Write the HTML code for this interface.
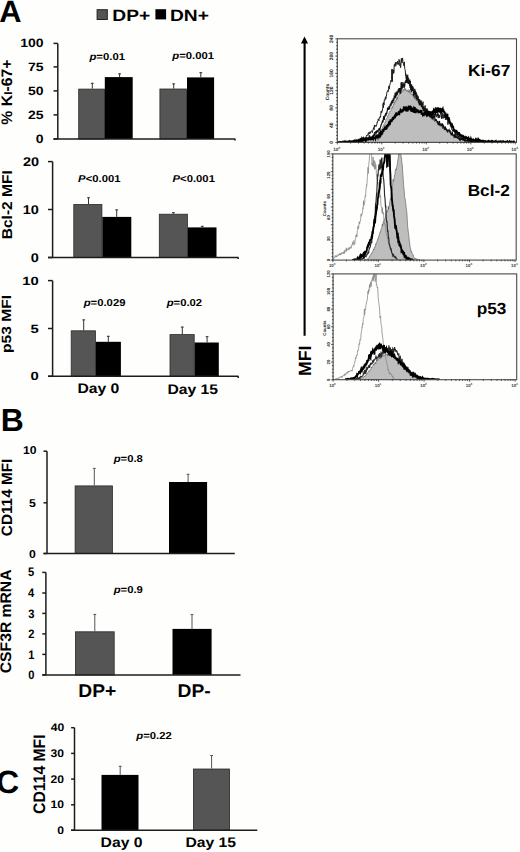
<!DOCTYPE html>
<html><head><meta charset="utf-8"><title>Figure</title>
<style>html,body{margin:0;padding:0;background:#fefefd;}svg{display:block}
text{font-family:'Liberation Sans',sans-serif;font-weight:bold;text-rendering:geometricPrecision}</style></head>
<body><svg width="520" height="852" viewBox="0 0 520 852">
<rect width="520" height="852" fill="#fefefd"/>
<rect x="78.70" y="89.10" width="25.70" height="49.90" fill="#555555" stroke="#2a2a2a" stroke-width="0.8"/>
<rect x="104.80" y="77.10" width="27.90" height="61.90" fill="#000"/>
<rect x="159.90" y="89.00" width="26.70" height="50.00" fill="#555555" stroke="#2a2a2a" stroke-width="0.8"/>
<rect x="187.00" y="77.40" width="27.10" height="61.60" fill="#000"/>
<line x1="92.30" y1="82.90" x2="92.30" y2="88.70" stroke="#333" stroke-width="1.0"/>
<line x1="90.90" y1="83.30" x2="93.70" y2="83.30" stroke="#333" stroke-width="1.0"/>
<line x1="119.60" y1="73.50" x2="119.60" y2="77.10" stroke="#333" stroke-width="1.0"/>
<line x1="118.20" y1="73.90" x2="121.00" y2="73.90" stroke="#333" stroke-width="1.0"/>
<line x1="173.70" y1="83.50" x2="173.70" y2="88.60" stroke="#333" stroke-width="1.0"/>
<line x1="172.30" y1="83.90" x2="175.10" y2="83.90" stroke="#333" stroke-width="1.0"/>
<line x1="200.80" y1="72.30" x2="200.80" y2="77.40" stroke="#333" stroke-width="1.0"/>
<line x1="199.40" y1="72.70" x2="202.20" y2="72.70" stroke="#333" stroke-width="1.0"/>
<line x1="57.80" y1="43.40" x2="57.80" y2="139.00" stroke="#1c1c1c" stroke-width="1.5"/>
<line x1="53.50" y1="43.40" x2="57.80" y2="43.40" stroke="#1c1c1c" stroke-width="1.5"/>
<line x1="53.50" y1="66.90" x2="57.80" y2="66.90" stroke="#1c1c1c" stroke-width="1.5"/>
<line x1="53.50" y1="90.90" x2="57.80" y2="90.90" stroke="#1c1c1c" stroke-width="1.5"/>
<line x1="53.50" y1="114.90" x2="57.80" y2="114.90" stroke="#1c1c1c" stroke-width="1.5"/>
<line x1="53.50" y1="139.00" x2="57.80" y2="139.00" stroke="#1c1c1c" stroke-width="1.5"/>
<line x1="53.50" y1="139.00" x2="235.30" y2="139.00" stroke="#1c1c1c" stroke-width="1.5"/>
<line x1="235.00" y1="139.00" x2="235.00" y2="140.60" stroke="#1c1c1c" stroke-width="1.5"/>
<rect x="73.80" y="204.50" width="28.10" height="53.00" fill="#555555" stroke="#2a2a2a" stroke-width="0.8"/>
<rect x="102.30" y="216.90" width="29.00" height="40.60" fill="#000"/>
<rect x="159.30" y="214.20" width="28.10" height="43.30" fill="#555555" stroke="#2a2a2a" stroke-width="0.8"/>
<rect x="187.80" y="227.40" width="28.70" height="30.10" fill="#000"/>
<line x1="88.50" y1="197.40" x2="88.50" y2="204.10" stroke="#333" stroke-width="1.0"/>
<line x1="87.10" y1="197.80" x2="89.90" y2="197.80" stroke="#333" stroke-width="1.0"/>
<line x1="116.70" y1="209.50" x2="116.70" y2="216.90" stroke="#333" stroke-width="1.0"/>
<line x1="115.30" y1="209.90" x2="118.10" y2="209.90" stroke="#333" stroke-width="1.0"/>
<line x1="173.40" y1="212.30" x2="173.40" y2="213.80" stroke="#333" stroke-width="1.0"/>
<line x1="172.00" y1="212.70" x2="174.80" y2="212.70" stroke="#333" stroke-width="1.0"/>
<line x1="202.30" y1="225.90" x2="202.30" y2="227.40" stroke="#333" stroke-width="1.0"/>
<line x1="200.90" y1="226.30" x2="203.70" y2="226.30" stroke="#333" stroke-width="1.0"/>
<line x1="52.60" y1="161.60" x2="52.60" y2="257.50" stroke="#1c1c1c" stroke-width="1.5"/>
<line x1="48.00" y1="161.60" x2="52.60" y2="161.60" stroke="#1c1c1c" stroke-width="1.5"/>
<line x1="48.00" y1="209.50" x2="52.60" y2="209.50" stroke="#1c1c1c" stroke-width="1.5"/>
<line x1="48.00" y1="257.50" x2="52.60" y2="257.50" stroke="#1c1c1c" stroke-width="1.5"/>
<line x1="48.00" y1="257.50" x2="238.50" y2="257.50" stroke="#1c1c1c" stroke-width="1.5"/>
<line x1="238.20" y1="257.50" x2="238.20" y2="259.10" stroke="#1c1c1c" stroke-width="1.5"/>
<rect x="71.20" y="330.80" width="24.20" height="45.50" fill="#555555" stroke="#2a2a2a" stroke-width="0.8"/>
<rect x="95.80" y="341.80" width="25.10" height="34.50" fill="#000"/>
<rect x="170.00" y="334.60" width="24.20" height="41.70" fill="#555555" stroke="#2a2a2a" stroke-width="0.8"/>
<rect x="194.60" y="342.50" width="24.20" height="33.80" fill="#000"/>
<line x1="83.70" y1="319.50" x2="83.70" y2="330.40" stroke="#333" stroke-width="1.0"/>
<line x1="82.30" y1="319.90" x2="85.10" y2="319.90" stroke="#333" stroke-width="1.0"/>
<line x1="108.30" y1="335.90" x2="108.30" y2="341.80" stroke="#333" stroke-width="1.0"/>
<line x1="106.90" y1="336.30" x2="109.70" y2="336.30" stroke="#333" stroke-width="1.0"/>
<line x1="182.30" y1="326.70" x2="182.30" y2="334.20" stroke="#333" stroke-width="1.0"/>
<line x1="180.90" y1="327.10" x2="183.70" y2="327.10" stroke="#333" stroke-width="1.0"/>
<line x1="207.10" y1="336.30" x2="207.10" y2="342.50" stroke="#333" stroke-width="1.0"/>
<line x1="205.70" y1="336.70" x2="208.50" y2="336.70" stroke="#333" stroke-width="1.0"/>
<line x1="52.60" y1="280.60" x2="52.60" y2="376.30" stroke="#1c1c1c" stroke-width="1.5"/>
<line x1="48.00" y1="280.60" x2="52.60" y2="280.60" stroke="#1c1c1c" stroke-width="1.5"/>
<line x1="48.00" y1="328.50" x2="52.60" y2="328.50" stroke="#1c1c1c" stroke-width="1.5"/>
<line x1="48.00" y1="376.30" x2="52.60" y2="376.30" stroke="#1c1c1c" stroke-width="1.5"/>
<line x1="48.00" y1="376.30" x2="238.50" y2="376.30" stroke="#1c1c1c" stroke-width="1.5"/>
<line x1="238.20" y1="376.30" x2="238.20" y2="377.90" stroke="#1c1c1c" stroke-width="1.5"/>
<rect x="75.10" y="485.90" width="37.30" height="67.60" fill="#555555" stroke="#2a2a2a" stroke-width="0.8"/>
<rect x="169.00" y="482.00" width="38.10" height="71.50" fill="#000"/>
<line x1="94.30" y1="468.00" x2="94.30" y2="485.50" stroke="#555" stroke-width="1.0"/>
<line x1="92.90" y1="468.40" x2="95.70" y2="468.40" stroke="#555" stroke-width="1.0"/>
<line x1="188.10" y1="473.90" x2="188.10" y2="482.00" stroke="#555" stroke-width="1.0"/>
<line x1="186.70" y1="474.30" x2="189.50" y2="474.30" stroke="#555" stroke-width="1.0"/>
<line x1="47.00" y1="451.20" x2="47.00" y2="553.50" stroke="#1c1c1c" stroke-width="1.5"/>
<line x1="43.50" y1="451.20" x2="47.00" y2="451.20" stroke="#1c1c1c" stroke-width="1.5"/>
<line x1="43.50" y1="502.80" x2="47.00" y2="502.80" stroke="#1c1c1c" stroke-width="1.5"/>
<line x1="43.50" y1="553.50" x2="47.00" y2="553.50" stroke="#1c1c1c" stroke-width="1.5"/>
<line x1="43.50" y1="553.50" x2="234.80" y2="553.50" stroke="#1c1c1c" stroke-width="1.5"/>
<rect x="75.40" y="631.80" width="38.80" height="43.10" fill="#555555" stroke="#2a2a2a" stroke-width="0.8"/>
<rect x="172.50" y="628.90" width="39.10" height="46.00" fill="#000"/>
<line x1="94.80" y1="614.00" x2="94.80" y2="631.40" stroke="#555" stroke-width="1.0"/>
<line x1="93.40" y1="614.40" x2="96.20" y2="614.40" stroke="#555" stroke-width="1.0"/>
<line x1="192.00" y1="614.20" x2="192.00" y2="628.90" stroke="#555" stroke-width="1.0"/>
<line x1="190.60" y1="614.60" x2="193.40" y2="614.60" stroke="#555" stroke-width="1.0"/>
<line x1="45.90" y1="572.40" x2="45.90" y2="674.90" stroke="#1c1c1c" stroke-width="1.5"/>
<line x1="42.30" y1="572.40" x2="45.90" y2="572.40" stroke="#1c1c1c" stroke-width="1.5"/>
<line x1="42.30" y1="593.00" x2="45.90" y2="593.00" stroke="#1c1c1c" stroke-width="1.5"/>
<line x1="42.30" y1="613.40" x2="45.90" y2="613.40" stroke="#1c1c1c" stroke-width="1.5"/>
<line x1="42.30" y1="633.90" x2="45.90" y2="633.90" stroke="#1c1c1c" stroke-width="1.5"/>
<line x1="42.30" y1="654.40" x2="45.90" y2="654.40" stroke="#1c1c1c" stroke-width="1.5"/>
<line x1="42.30" y1="674.90" x2="45.90" y2="674.90" stroke="#1c1c1c" stroke-width="1.5"/>
<line x1="42.30" y1="674.90" x2="240.50" y2="674.90" stroke="#1c1c1c" stroke-width="1.5"/>
<rect x="101.50" y="774.90" width="37.00" height="55.30" fill="#000"/>
<rect x="193.40" y="769.00" width="36.20" height="61.20" fill="#555555" stroke="#2a2a2a" stroke-width="0.8"/>
<line x1="120.20" y1="765.90" x2="120.20" y2="774.90" stroke="#555" stroke-width="1.0"/>
<line x1="118.80" y1="766.30" x2="121.60" y2="766.30" stroke="#555" stroke-width="1.0"/>
<line x1="211.60" y1="755.10" x2="211.60" y2="768.60" stroke="#555" stroke-width="1.0"/>
<line x1="210.20" y1="755.50" x2="213.00" y2="755.50" stroke="#555" stroke-width="1.0"/>
<line x1="74.50" y1="727.70" x2="74.50" y2="830.20" stroke="#1c1c1c" stroke-width="1.5"/>
<line x1="71.10" y1="727.70" x2="74.50" y2="727.70" stroke="#1c1c1c" stroke-width="1.5"/>
<line x1="71.10" y1="753.40" x2="74.50" y2="753.40" stroke="#1c1c1c" stroke-width="1.5"/>
<line x1="71.10" y1="779.10" x2="74.50" y2="779.10" stroke="#1c1c1c" stroke-width="1.5"/>
<line x1="71.10" y1="804.80" x2="74.50" y2="804.80" stroke="#1c1c1c" stroke-width="1.5"/>
<line x1="71.10" y1="830.20" x2="74.50" y2="830.20" stroke="#1c1c1c" stroke-width="1.5"/>
<line x1="71.10" y1="830.20" x2="257.30" y2="830.20" stroke="#1c1c1c" stroke-width="1.5"/>
<rect x="97.1" y="9.7" width="10.2" height="9.8" fill="#555555" stroke="#222" stroke-width="1"/>
<rect x="155.4" y="9.2" width="10.7" height="10.2" fill="#000"/>
<defs><clipPath id="h1"><rect x="337.3" y="38.8" width="179.2" height="103.6"/></clipPath><clipPath id="h2"><rect x="332.8" y="153.9" width="183.4" height="106.2"/></clipPath><clipPath id="h3"><rect x="333.1" y="273.9" width="183.6" height="105.8"/></clipPath></defs>
<g clip-path="url(#h1)"><path d="M345.00,142.40 L345.30,142.40 L345.60,142.27 L345.90,142.19 L346.20,142.14 L346.50,142.22 L346.80,142.11 L347.10,142.06 L347.40,142.19 L347.70,142.17 L348.00,142.19 L348.30,142.04 L348.60,142.11 L348.90,142.09 L349.20,141.93 L349.50,142.11 L349.80,142.08 L350.10,142.27 L350.40,142.03 L350.70,141.98 L351.00,142.11 L351.30,141.99 L351.60,142.05 L351.90,141.89 L352.20,141.94 L352.50,142.01 L352.80,141.96 L353.10,141.88 L353.40,141.73 L353.70,141.89 L354.00,141.83 L354.30,141.89 L354.60,141.81 L354.90,141.90 L355.20,141.75 L355.50,141.76 L355.80,141.81 L356.10,141.57 L356.40,141.64 L356.70,141.61 L357.00,141.91 L357.30,141.63 L357.60,141.71 L357.90,141.69 L358.20,141.56 L358.50,141.37 L358.80,141.69 L359.10,141.49 L359.40,141.63 L359.70,141.34 L360.00,141.42 L360.30,141.61 L360.60,141.58 L360.90,141.12 L361.20,141.05 L361.50,141.18 L361.80,141.24 L362.10,141.09 L362.40,141.05 L362.70,140.77 L363.00,140.97 L363.30,141.00 L363.60,140.67 L363.90,140.43 L364.20,140.49 L364.50,140.70 L364.80,140.18 L365.10,140.42 L365.40,140.19 L365.70,140.29 L366.00,140.20 L366.30,140.19 L366.60,140.43 L366.90,140.15 L367.20,140.27 L367.50,139.91 L367.80,139.77 L368.10,139.89 L368.40,139.14 L368.70,139.68 L369.00,139.66 L369.30,139.29 L369.60,139.60 L369.90,139.31 L370.20,138.81 L370.50,139.26 L370.80,139.02 L371.10,139.07 L371.40,139.09 L371.70,139.36 L372.00,138.97 L372.30,138.77 L372.60,138.65 L372.90,137.85 L373.20,138.43 L373.50,137.58 L373.80,137.77 L374.10,137.10 L374.40,136.91 L374.70,136.86 L375.00,137.33 L375.30,136.74 L375.60,136.11 L375.90,135.98 L376.20,135.47 L376.50,135.61 L376.80,135.21 L377.10,135.42 L377.40,134.48 L377.70,134.61 L378.00,134.20 L378.30,134.01 L378.60,134.31 L378.90,133.87 L379.20,133.82 L379.50,133.83 L379.80,133.55 L380.10,132.14 L380.40,132.34 L380.70,130.72 L381.00,130.76 L381.30,130.98 L381.60,129.38 L381.90,128.63 L382.20,128.22 L382.50,127.49 L382.80,126.83 L383.10,125.77 L383.40,126.05 L383.70,125.30 L384.00,124.05 L384.30,123.68 L384.60,123.21 L384.90,122.77 L385.20,121.75 L385.50,121.26 L385.80,120.04 L386.10,118.89 L386.40,118.57 L386.70,118.84 L387.00,118.16 L387.30,116.98 L387.60,115.87 L387.90,115.81 L388.20,116.11 L388.50,115.32 L388.80,113.37 L389.10,113.21 L389.40,111.65 L389.70,111.27 L390.00,111.59 L390.30,110.88 L390.60,110.96 L390.90,110.59 L391.20,109.70 L391.50,109.46 L391.80,107.50 L392.10,106.47 L392.40,107.10 L392.70,108.15 L393.00,105.81 L393.30,104.06 L393.60,104.54 L393.90,104.87 L394.20,102.36 L394.50,103.21 L394.80,101.50 L395.10,102.41 L395.40,101.46 L395.70,100.54 L396.00,101.42 L396.30,98.94 L396.60,98.20 L396.90,99.80 L397.20,97.01 L397.50,99.09 L397.80,96.70 L398.10,95.34 L398.40,95.71 L398.70,95.32 L399.00,94.87 L399.30,94.02 L399.60,94.62 L399.90,91.18 L400.20,92.34 L400.50,92.28 L400.80,93.83 L401.10,90.15 L401.40,91.33 L401.70,90.31 L402.00,90.45 L402.30,91.33 L402.60,90.83 L402.90,91.47 L403.20,89.32 L403.50,89.82 L403.80,90.35 L404.10,89.82 L404.40,88.44 L404.70,89.72 L405.00,87.94 L405.30,90.66 L405.60,89.37 L405.90,89.34 L406.20,89.91 L406.50,90.65 L406.80,91.68 L407.10,90.19 L407.40,90.20 L407.70,91.28 L408.00,90.18 L408.30,89.66 L408.60,92.15 L408.90,91.28 L409.20,92.84 L409.50,91.14 L409.80,89.70 L410.10,92.74 L410.40,92.85 L410.70,94.37 L411.00,93.71 L411.30,93.86 L411.60,94.45 L411.90,93.97 L412.20,94.71 L412.50,93.83 L412.80,95.79 L413.10,95.01 L413.40,95.67 L413.70,97.00 L414.00,97.53 L414.30,96.26 L414.60,99.15 L414.90,97.32 L415.20,98.86 L415.50,99.31 L415.80,99.05 L416.10,99.36 L416.40,101.05 L416.70,100.65 L417.00,100.64 L417.30,99.15 L417.60,100.38 L417.90,102.27 L418.20,101.84 L418.50,101.28 L418.80,101.88 L419.10,102.50 L419.40,103.64 L419.70,103.75 L420.00,104.61 L420.30,103.63 L420.60,105.48 L420.90,104.80 L421.20,105.41 L421.50,107.41 L421.80,106.62 L422.10,106.92 L422.40,107.32 L422.70,107.66 L423.00,109.54 L423.30,109.86 L423.60,109.84 L423.90,109.91 L424.20,110.98 L424.50,110.65 L424.80,111.48 L425.10,111.90 L425.40,112.14 L425.70,113.67 L426.00,114.13 L426.30,114.17 L426.60,112.25 L426.90,115.05 L427.20,114.55 L427.50,114.05 L427.80,114.61 L428.10,115.65 L428.40,115.94 L428.70,116.00 L429.00,115.80 L429.30,116.00 L429.60,116.79 L429.90,116.46 L430.20,116.22 L430.50,116.67 L430.80,117.25 L431.10,117.81 L431.40,119.29 L431.70,117.30 L432.00,118.71 L432.30,118.63 L432.60,119.14 L432.90,120.05 L433.20,120.25 L433.50,119.68 L433.80,119.71 L434.10,119.51 L434.40,120.55 L434.70,121.59 L435.00,120.98 L435.30,121.81 L435.60,122.08 L435.90,122.17 L436.20,122.83 L436.50,122.42 L436.80,122.29 L437.10,122.38 L437.40,123.81 L437.70,123.37 L438.00,123.67 L438.30,124.56 L438.60,123.96 L438.90,125.59 L439.20,125.27 L439.50,124.92 L439.80,125.14 L440.10,126.29 L440.40,125.40 L440.70,125.95 L441.00,126.55 L441.30,126.91 L441.60,127.06 L441.90,127.47 L442.20,127.31 L442.50,127.63 L442.80,128.51 L443.10,128.41 L443.40,128.10 L443.70,129.33 L444.00,127.80 L444.30,128.97 L444.60,129.45 L444.90,129.79 L445.20,129.60 L445.50,129.59 L445.80,130.23 L446.10,130.09 L446.40,130.59 L446.70,129.35 L447.00,130.96 L447.30,130.67 L447.60,131.61 L447.90,131.73 L448.20,131.93 L448.50,131.67 L448.80,132.22 L449.10,132.11 L449.40,132.54 L449.70,132.61 L450.00,132.53 L450.30,133.84 L450.60,133.56 L450.90,132.71 L451.20,134.03 L451.50,133.39 L451.80,134.03 L452.10,134.11 L452.40,134.33 L452.70,134.82 L453.00,134.83 L453.30,134.65 L453.60,135.35 L453.90,135.68 L454.20,136.35 L454.50,135.84 L454.80,135.80 L455.10,136.27 L455.40,136.80 L455.70,136.53 L456.00,136.79 L456.30,137.38 L456.60,137.42 L456.90,137.66 L457.20,137.56 L457.50,137.60 L457.80,137.81 L458.10,137.94 L458.40,137.97 L458.70,138.25 L459.00,138.35 L459.30,138.43 L459.60,138.48 L459.90,138.21 L460.20,138.23 L460.50,138.79 L460.80,138.67 L461.10,138.77 L461.40,138.53 L461.70,138.84 L462.00,138.82 L462.30,138.84 L462.60,138.97 L462.90,138.85 L463.20,139.29 L463.50,139.62 L463.80,139.27 L464.10,139.52 L464.40,139.34 L464.70,139.80 L465.00,140.13 L465.30,139.54 L465.60,139.84 L465.90,140.25 L466.20,140.11 L466.50,140.13 L466.80,139.78 L467.10,140.23 L467.40,140.52 L467.70,140.69 L468.00,140.61 L468.30,140.46 L468.60,140.52 L468.90,140.40 L469.20,140.61 L469.50,141.06 L469.80,140.92 L470.10,140.77 L470.40,141.23 L470.70,140.77 L471.00,141.25 L471.30,141.01 L471.60,141.13 L471.90,141.20 L472.20,141.15 L472.50,141.32 L472.80,141.14 L473.10,141.10 L473.40,141.07 L473.70,140.96 L474.00,141.09 L474.30,141.36 L474.60,141.36 L474.90,141.45 L475.20,141.67 L475.50,141.38 L475.80,141.36 L476.10,141.11 L476.40,141.28 L476.70,141.66 L477.00,141.43 L477.30,141.35 L477.60,141.42 L477.90,141.12 L478.20,141.29 L478.50,141.24 L478.80,141.14 L479.10,141.56 L479.40,141.60 L479.70,141.46 L480.00,141.55 L480.30,141.38 L480.60,141.59 L480.90,141.65 L481.20,141.76 L481.50,141.78 L481.80,141.65 L482.10,141.59 L482.40,141.51 L482.70,141.56 L483.00,141.73 L483.30,141.74 L483.60,141.68 L483.90,141.90 L484.20,141.79 L484.50,141.73 L484.80,141.72 L485.10,141.76 L485.40,141.66 L485.70,141.67 L486.00,141.84 L486.30,141.75 L486.60,141.80 L486.90,141.99 L487.20,141.84 L487.50,142.02 L487.80,141.89 L488.10,142.07 L488.40,141.97 L488.70,141.74 L489.00,142.08 L489.30,141.94 L489.60,141.77 L489.90,142.00 L490.20,142.02 L490.50,141.87 L490.80,141.95 L491.10,142.07 L491.40,142.16 L491.70,142.14 L492.00,142.15 L492.30,142.14 L492.60,141.78 L492.90,141.96 L493.20,142.06 L493.50,141.77 L493.80,142.12 L494.10,142.14 L494.40,141.97 L494.70,142.02 L495.00,141.97 L495.30,142.06 L495.60,142.06 L495.90,142.07 L496.20,141.97 L496.50,142.12 L496.80,142.05 L497.10,142.18 L497.40,142.12 L497.70,141.95 L498.00,141.96 L498.30,142.11 L498.60,142.06 L498.90,142.15 L499.20,142.19 L499.50,142.12 L499.80,141.96 L500.10,142.01 L500.40,142.18 L500.70,142.03 L501.00,142.24 L501.30,142.13 L501.60,142.19 L501.90,142.06 L502.20,142.14 L502.50,141.88 L502.80,142.13 L503.10,142.21 L503.40,142.08 L503.70,142.09 L504.00,142.16 L504.30,142.18 L504.60,142.10 L504.90,142.24 L505.20,142.03 L505.50,142.29 L505.80,142.06 L506.10,142.12 L506.40,142.31 L506.70,142.11 L507.00,142.06 L507.30,142.21 L507.60,142.13 L507.90,142.12 L508.20,142.16 L508.50,142.16 L508.80,142.14 L509.10,142.14 L509.40,142.37 L509.70,142.18 L510.00,142.32 L510.30,142.12 L510.60,142.29 L510.90,142.15 L511.20,142.22 L511.50,142.31 L511.80,142.22 L512.10,142.10 L512.40,142.22 L512.70,142.26 L513.00,142.32 L513.30,142.20 L513.60,142.26 L513.90,142.29 L514.20,142.16 L514.50,142.29 L514.80,142.23 L514.80,142.40 L345.00,142.40 Z" fill="#bebebe" stroke="#666" stroke-width="0.6"/>
<path d="M345.00,142.40 L345.30,142.02 L345.60,142.23 L345.90,142.14 L346.20,142.28 L346.50,141.68 L346.80,141.90 L347.10,141.77 L347.40,141.65 L347.70,141.67 L348.00,141.73 L348.30,141.76 L348.60,141.54 L348.90,141.90 L349.20,141.57 L349.50,140.71 L349.80,142.05 L350.10,141.52 L350.40,141.37 L350.70,141.67 L351.00,141.62 L351.30,141.53 L351.60,141.19 L351.90,141.51 L352.20,140.87 L352.50,141.90 L352.80,140.89 L353.10,141.24 L353.40,141.29 L353.70,141.33 L354.00,141.12 L354.30,141.37 L354.60,139.74 L354.90,141.03 L355.20,140.97 L355.50,140.83 L355.80,141.58 L356.10,140.49 L356.40,140.78 L356.70,139.83 L357.00,140.73 L357.30,139.76 L357.60,139.67 L357.90,141.43 L358.20,140.55 L358.50,140.10 L358.80,140.09 L359.10,139.15 L359.40,139.24 L359.70,139.92 L360.00,138.43 L360.30,139.65 L360.60,138.41 L360.90,139.36 L361.20,138.54 L361.50,140.13 L361.80,139.60 L362.10,138.57 L362.40,137.61 L362.70,138.19 L363.00,138.55 L363.30,137.84 L363.60,138.57 L363.90,138.93 L364.20,138.14 L364.50,137.79 L364.80,138.49 L365.10,137.56 L365.40,138.12 L365.70,136.97 L366.00,138.13 L366.30,136.38 L366.60,135.45 L366.90,136.07 L367.20,135.17 L367.50,134.59 L367.80,134.98 L368.10,135.45 L368.40,132.53 L368.70,134.14 L369.00,133.74 L369.30,133.44 L369.60,134.06 L369.90,131.69 L370.20,133.34 L370.50,132.14 L370.80,132.19 L371.10,131.54 L371.40,131.12 L371.70,130.61 L372.00,131.24 L372.30,132.67 L372.60,130.99 L372.90,130.25 L373.20,129.39 L373.50,127.62 L373.80,128.40 L374.10,129.70 L374.40,124.96 L374.70,127.12 L375.00,126.84 L375.30,125.35 L375.60,125.51 L375.90,125.82 L376.20,126.45 L376.50,124.68 L376.80,124.67 L377.10,122.26 L377.40,122.46 L377.70,120.97 L378.00,120.62 L378.30,118.94 L378.60,120.15 L378.90,120.83 L379.20,117.80 L379.50,117.91 L379.80,117.98 L380.10,116.48 L380.40,117.27 L380.70,115.27 L381.00,111.79 L381.30,110.92 L381.60,112.91 L381.90,111.69 L382.20,111.50 L382.50,108.88 L382.80,107.73 L383.10,103.28 L383.40,107.91 L383.70,102.33 L384.00,105.14 L384.30,99.70 L384.60,99.63 L384.90,100.34 L385.20,98.22 L385.50,96.72 L385.80,99.19 L386.10,97.82 L386.40,96.31 L386.70,93.81 L387.00,91.81 L387.30,91.66 L387.60,90.63 L387.90,90.84 L388.20,91.74 L388.50,88.69 L388.80,86.33 L389.10,85.73 L389.40,89.13 L389.70,85.30 L390.00,84.26 L390.30,83.15 L390.60,82.71 L390.90,80.37 L391.20,81.76 L391.50,79.65 L391.80,69.12 L392.10,74.79 L392.40,81.60 L392.70,69.33 L393.00,71.97 L393.30,73.59 L393.60,69.94 L393.90,72.77 L394.20,64.98 L394.50,64.23 L394.80,66.35 L395.10,64.07 L395.40,62.37 L395.70,66.14 L396.00,64.76 L396.30,63.69 L396.60,62.40 L396.90,64.13 L397.20,62.92 L397.50,61.08 L397.80,64.42 L398.10,63.89 L398.40,62.95 L398.70,64.53 L399.00,59.35 L399.30,61.91 L399.60,60.71 L399.90,65.79 L400.20,63.35 L400.50,67.75 L400.80,66.10 L401.10,60.52 L401.40,58.36 L401.70,62.68 L402.00,60.40 L402.30,60.63 L402.60,57.96 L402.90,62.90 L403.20,62.52 L403.50,64.46 L403.80,65.72 L404.10,63.93 L404.40,61.87 L404.70,68.72 L405.00,69.28 L405.30,70.90 L405.60,75.80 L405.90,73.74 L406.20,78.49 L406.50,75.67 L406.80,77.58 L407.10,77.79 L407.40,79.27 L407.70,74.84 L408.00,81.50 L408.30,79.82 L408.60,77.92 L408.90,82.61 L409.20,82.72 L409.50,85.77 L409.80,85.18 L410.10,85.07 L410.40,81.09 L410.70,89.64 L411.00,89.81 L411.30,88.68 L411.60,88.46 L411.90,90.73 L412.20,86.44 L412.50,90.56 L412.80,89.53 L413.10,87.73 L413.40,91.35 L413.70,91.84 L414.00,95.37 L414.30,94.19 L414.60,89.06 L414.90,88.81 L415.20,93.48 L415.50,93.70 L415.80,92.62 L416.10,92.00 L416.40,95.21 L416.70,93.65 L417.00,95.14 L417.30,98.92 L417.60,98.09 L417.90,96.50 L418.20,96.23 L418.50,98.67 L418.80,103.10 L419.10,99.00 L419.40,104.03 L419.70,99.42 L420.00,101.06 L420.30,103.31 L420.60,100.82 L420.90,102.88 L421.20,100.54 L421.50,104.92 L421.80,106.30 L422.10,103.22 L422.40,105.26 L422.70,104.54 L423.00,101.65 L423.30,111.36 L423.60,107.78 L423.90,108.57 L424.20,108.17 L424.50,108.19 L424.80,112.64 L425.10,105.40 L425.40,108.58 L425.70,108.82 L426.00,109.56 L426.30,111.45 L426.60,109.14 L426.90,108.28 L427.20,108.85 L427.50,111.86 L427.80,112.94 L428.10,112.89 L428.40,114.47 L428.70,111.00 L429.00,113.83 L429.30,113.51 L429.60,112.25 L429.90,111.46 L430.20,114.46 L430.50,112.02 L430.80,112.89 L431.10,111.95 L431.40,116.74 L431.70,113.93 L432.00,113.40 L432.30,114.03 L432.60,114.28 L432.90,115.01 L433.20,112.27 L433.50,113.39 L433.80,116.27 L434.10,117.30 L434.40,113.92 L434.70,115.79 L435.00,114.70 L435.30,111.98 L435.60,115.21 L435.90,113.99 L436.20,117.20 L436.50,115.48 L436.80,115.79 L437.10,113.52 L437.40,116.16 L437.70,112.81 L438.00,116.32 L438.30,118.15 L438.60,113.88 L438.90,117.15 L439.20,117.98 L439.50,115.30 L439.80,117.37 L440.10,115.61 L440.40,114.59 L440.70,112.03 L441.00,113.48 L441.30,112.73 L441.60,119.01 L441.90,115.51 L442.20,114.87 L442.50,113.10 L442.80,118.31 L443.10,113.80 L443.40,118.28 L443.70,117.81 L444.00,116.36 L444.30,115.38 L444.60,116.55 L444.90,114.70 L445.20,118.03 L445.50,119.85 L445.80,118.82 L446.10,119.40 L446.40,117.15 L446.70,119.25 L447.00,117.78 L447.30,119.21 L447.60,121.51 L447.90,124.63 L448.20,121.63 L448.50,122.13 L448.80,119.97 L449.10,123.41 L449.40,122.46 L449.70,122.34 L450.00,122.77 L450.30,125.46 L450.60,125.29 L450.90,127.18 L451.20,126.56 L451.50,127.37 L451.80,129.67 L452.10,129.38 L452.40,129.84 L452.70,131.15 L453.00,130.20 L453.30,129.30 L453.60,129.92 L453.90,129.51 L454.20,131.93 L454.50,131.53 L454.80,132.85 L455.10,133.56 L455.40,132.33 L455.70,133.68 L456.00,135.08 L456.30,134.37 L456.60,135.51 L456.90,134.90 L457.20,134.66 L457.50,135.66 L457.80,134.70 L458.10,137.04 L458.40,136.28 L458.70,137.83 L459.00,136.01 L459.30,137.16 L459.60,137.45 L459.90,137.18 L460.20,137.74 L460.50,137.06 L460.80,136.97 L461.10,136.88 L461.40,137.60 L461.70,137.57 L462.00,138.41 L462.30,138.14 L462.60,138.09 L462.90,138.18 L463.20,137.59 L463.50,138.68 L463.80,139.29 L464.10,138.38 L464.40,139.15 L464.70,139.82 L465.00,139.17 L465.30,139.80 L465.60,139.60 L465.90,141.22 L466.20,140.73 L466.50,140.66 L466.80,139.74 L467.10,140.45 L467.40,140.07 L467.70,140.36 L468.00,139.93 L468.30,140.32 L468.60,139.90 L468.90,140.45 L469.20,141.20 L469.50,139.71 L469.80,139.78 L470.10,140.68 L470.40,140.85 L470.70,140.33 L471.00,140.81 L471.30,140.76 L471.60,140.85 L471.90,141.26 L472.20,140.37 L472.50,140.99 L472.80,140.82 L473.10,140.46 L473.40,141.01 L473.70,140.26 L474.00,140.22 L474.30,141.35 L474.60,140.45 L474.90,141.66 L475.20,141.42 L475.50,140.80 L475.80,140.69 L476.10,140.18 L476.40,141.08 L476.70,140.50 L477.00,141.79 L477.30,140.56 L477.60,141.27 L477.90,140.24 L478.20,141.17 L478.50,141.83 L478.80,141.21 L479.10,141.10 L479.40,141.26 L479.70,141.60 L480.00,141.80 L480.30,141.42 L480.60,140.80 L480.90,141.62 L481.20,141.86 L481.50,142.32 L481.80,141.59 L482.10,141.60 L482.40,141.36 L482.70,141.81 L483.00,142.16 L483.30,141.22 L483.60,141.60 L483.90,141.22 L484.20,141.35 L484.50,141.53 L484.80,141.76 L485.10,141.32 L485.40,141.51 L485.70,142.07 L486.00,141.79 L486.30,141.86 L486.60,141.76 L486.90,141.57 L487.20,141.78 L487.50,141.82 L487.80,141.65 L488.10,141.99 L488.40,141.67 L488.70,141.96 L489.00,141.69 L489.30,141.92 L489.60,141.47 L489.90,141.52 L490.20,141.33 L490.50,142.09 L490.80,141.88 L491.10,141.79 L491.40,141.92 L491.70,141.47 L492.00,141.77 L492.30,141.59 L492.60,141.17 L492.90,141.67 L493.20,141.49 L493.50,142.21 L493.80,141.54 L494.10,141.59 L494.40,142.09 L494.70,141.79 L495.00,141.39 L495.30,141.87 L495.60,141.58 L495.90,142.33 L496.20,141.51 L496.50,141.61 L496.80,141.02 L497.10,141.64 L497.40,142.40 L497.70,141.82 L498.00,141.58 L498.30,141.95 L498.60,141.79 L498.90,141.86 L499.20,142.40 L499.50,142.40 L499.80,142.35 L500.10,142.38 L500.40,141.64 L500.70,141.36 L501.00,142.13 L501.30,142.04 L501.60,141.94 L501.90,141.90 L502.20,142.14 L502.50,142.11 L502.80,142.03 L503.10,142.10 L503.40,141.91 L503.70,141.87 L504.00,142.36 L504.30,141.92 L504.60,142.40 L504.90,142.17 L505.20,142.02 L505.50,142.31 L505.80,141.88 L506.10,141.97 L506.40,141.94 L506.70,142.03 L507.00,142.22 L507.30,142.40 L507.60,142.19 L507.90,141.78 L508.20,141.85 L508.50,141.61 L508.80,142.26 L509.10,142.30 L509.40,142.17 L509.70,142.18 L510.00,142.23 L510.30,142.21 L510.60,142.27 L510.90,142.17 L511.20,141.88 L511.50,142.36 L511.80,142.40 L512.10,141.75 L512.40,142.09 L512.70,141.89 L513.00,142.28 L513.30,142.10 L513.60,142.40 L513.90,142.40 L514.20,142.08 L514.50,142.08 L514.80,142.06" fill="none" stroke="#222" stroke-width="1.0"/>
<path d="M345.00,142.21 L345.30,142.40 L345.60,141.94 L345.90,142.36 L346.20,142.04 L346.50,142.02 L346.80,142.40 L347.10,142.07 L347.40,142.00 L347.70,142.18 L348.00,142.26 L348.30,141.93 L348.60,142.08 L348.90,141.61 L349.20,141.76 L349.50,141.71 L349.80,141.42 L350.10,141.34 L350.40,141.28 L350.70,141.67 L351.00,141.67 L351.30,141.60 L351.60,141.69 L351.90,141.22 L352.20,141.60 L352.50,141.68 L352.80,141.82 L353.10,141.27 L353.40,141.39 L353.70,140.82 L354.00,141.31 L354.30,140.69 L354.60,140.93 L354.90,141.80 L355.20,140.59 L355.50,141.65 L355.80,141.46 L356.10,141.20 L356.40,141.46 L356.70,141.46 L357.00,141.63 L357.30,141.13 L357.60,140.96 L357.90,140.93 L358.20,140.76 L358.50,141.10 L358.80,140.79 L359.10,141.50 L359.40,140.30 L359.70,140.58 L360.00,140.58 L360.30,140.02 L360.60,141.62 L360.90,139.64 L361.20,140.47 L361.50,140.26 L361.80,141.18 L362.10,139.34 L362.40,140.73 L362.70,139.73 L363.00,139.92 L363.30,139.55 L363.60,140.14 L363.90,139.08 L364.20,139.56 L364.50,139.70 L364.80,140.44 L365.10,137.91 L365.40,140.09 L365.70,139.66 L366.00,138.71 L366.30,139.09 L366.60,138.51 L366.90,139.73 L367.20,138.73 L367.50,138.36 L367.80,138.25 L368.10,138.17 L368.40,138.08 L368.70,137.51 L369.00,139.39 L369.30,136.59 L369.60,135.31 L369.90,137.61 L370.20,137.50 L370.50,137.77 L370.80,137.25 L371.10,137.19 L371.40,137.44 L371.70,137.82 L372.00,136.59 L372.30,136.40 L372.60,137.89 L372.90,136.47 L373.20,134.91 L373.50,137.37 L373.80,135.76 L374.10,134.25 L374.40,133.40 L374.70,134.40 L375.00,133.04 L375.30,132.49 L375.60,131.93 L375.90,132.36 L376.20,133.64 L376.50,131.78 L376.80,130.41 L377.10,132.28 L377.40,131.33 L377.70,131.85 L378.00,131.93 L378.30,130.12 L378.60,129.83 L378.90,129.62 L379.20,128.05 L379.50,129.80 L379.80,130.27 L380.10,128.38 L380.40,127.25 L380.70,126.49 L381.00,125.10 L381.30,124.33 L381.60,124.12 L381.90,122.80 L382.20,122.61 L382.50,120.28 L382.80,122.27 L383.10,121.12 L383.40,118.63 L383.70,116.16 L384.00,118.88 L384.30,119.88 L384.60,116.30 L384.90,115.96 L385.20,115.09 L385.50,116.35 L385.80,113.05 L386.10,115.50 L386.40,112.61 L386.70,113.99 L387.00,111.74 L387.30,110.55 L387.60,107.65 L387.90,108.42 L388.20,108.62 L388.50,109.75 L388.80,108.45 L389.10,106.16 L389.40,107.68 L389.70,108.22 L390.00,105.54 L390.30,104.43 L390.60,103.97 L390.90,105.75 L391.20,104.69 L391.50,101.26 L391.80,103.29 L392.10,101.04 L392.40,99.95 L392.70,103.41 L393.00,102.03 L393.30,98.33 L393.60,99.44 L393.90,99.77 L394.20,96.85 L394.50,97.38 L394.80,98.50 L395.10,92.75 L395.40,96.72 L395.70,97.10 L396.00,96.11 L396.30,91.62 L396.60,94.74 L396.90,91.66 L397.20,94.32 L397.50,93.91 L397.80,92.57 L398.10,89.89 L398.40,89.78 L398.70,92.55 L399.00,88.09 L399.30,90.77 L399.60,90.32 L399.90,88.09 L400.20,93.91 L400.50,88.32 L400.80,92.92 L401.10,83.09 L401.40,82.35 L401.70,89.64 L402.00,88.63 L402.30,86.22 L402.60,86.62 L402.90,82.09 L403.20,84.87 L403.50,83.71 L403.80,85.42 L404.10,87.83 L404.40,85.57 L404.70,85.75 L405.00,82.33 L405.30,81.90 L405.60,82.17 L405.90,80.16 L406.20,82.93 L406.50,76.56 L406.80,82.66 L407.10,75.20 L407.40,80.72 L407.70,76.91 L408.00,83.72 L408.30,80.76 L408.60,82.19 L408.90,83.81 L409.20,81.25 L409.50,81.08 L409.80,79.53 L410.10,88.05 L410.40,84.31 L410.70,85.29 L411.00,87.23 L411.30,92.43 L411.60,84.34 L411.90,89.39 L412.20,88.41 L412.50,91.02 L412.80,86.24 L413.10,89.90 L413.40,93.18 L413.70,95.27 L414.00,95.83 L414.30,90.90 L414.60,93.40 L414.90,93.53 L415.20,91.28 L415.50,91.65 L415.80,96.90 L416.10,96.30 L416.40,95.97 L416.70,99.35 L417.00,95.17 L417.30,98.88 L417.60,98.30 L417.90,98.66 L418.20,100.30 L418.50,100.15 L418.80,100.83 L419.10,101.33 L419.40,105.19 L419.70,101.18 L420.00,104.30 L420.30,103.96 L420.60,102.53 L420.90,105.23 L421.20,102.48 L421.50,106.84 L421.80,103.51 L422.10,104.59 L422.40,106.59 L422.70,108.01 L423.00,108.60 L423.30,109.02 L423.60,107.44 L423.90,106.53 L424.20,109.74 L424.50,109.75 L424.80,107.95 L425.10,111.86 L425.40,110.93 L425.70,109.36 L426.00,112.20 L426.30,109.43 L426.60,110.46 L426.90,112.91 L427.20,109.78 L427.50,112.76 L427.80,110.63 L428.10,114.42 L428.40,112.18 L428.70,113.95 L429.00,111.36 L429.30,113.55 L429.60,115.94 L429.90,115.36 L430.20,111.81 L430.50,116.60 L430.80,116.77 L431.10,114.94 L431.40,118.09 L431.70,114.32 L432.00,116.13 L432.30,118.29 L432.60,118.83 L432.90,119.01 L433.20,115.50 L433.50,114.67 L433.80,118.33 L434.10,115.78 L434.40,118.10 L434.70,116.63 L435.00,120.52 L435.30,120.42 L435.60,120.34 L435.90,119.83 L436.20,120.17 L436.50,119.96 L436.80,121.26 L437.10,121.36 L437.40,121.96 L437.70,120.98 L438.00,124.61 L438.30,122.60 L438.60,124.46 L438.90,124.66 L439.20,121.88 L439.50,121.08 L439.80,125.41 L440.10,123.48 L440.40,124.41 L440.70,124.26 L441.00,125.07 L441.30,123.64 L441.60,125.34 L441.90,125.13 L442.20,125.95 L442.50,123.25 L442.80,127.49 L443.10,127.12 L443.40,124.80 L443.70,126.29 L444.00,127.47 L444.30,128.44 L444.60,127.92 L444.90,129.81 L445.20,128.44 L445.50,127.48 L445.80,128.11 L446.10,130.00 L446.40,128.69 L446.70,130.58 L447.00,131.02 L447.30,130.77 L447.60,131.48 L447.90,130.42 L448.20,130.84 L448.50,130.46 L448.80,130.69 L449.10,129.94 L449.40,131.24 L449.70,130.95 L450.00,130.83 L450.30,132.65 L450.60,133.19 L450.90,132.64 L451.20,134.52 L451.50,134.33 L451.80,134.65 L452.10,133.34 L452.40,132.77 L452.70,134.87 L453.00,134.87 L453.30,135.47 L453.60,135.42 L453.90,136.37 L454.20,135.29 L454.50,136.31 L454.80,135.27 L455.10,134.39 L455.40,136.11 L455.70,137.84 L456.00,135.67 L456.30,137.91 L456.60,136.90 L456.90,137.31 L457.20,137.78 L457.50,138.00 L457.80,137.29 L458.10,138.13 L458.40,138.43 L458.70,138.78 L459.00,137.83 L459.30,139.42 L459.60,139.73 L459.90,140.13 L460.20,137.86 L460.50,138.90 L460.80,137.75 L461.10,139.20 L461.40,139.40 L461.70,138.49 L462.00,138.34 L462.30,139.46 L462.60,139.80 L462.90,139.09 L463.20,139.49 L463.50,138.36 L463.80,139.44 L464.10,139.99 L464.40,140.08 L464.70,140.89 L465.00,139.62 L465.30,139.19 L465.60,140.59 L465.90,140.18 L466.20,140.64 L466.50,140.87 L466.80,140.84 L467.10,141.24 L467.40,141.22 L467.70,139.89 L468.00,140.63 L468.30,141.57 L468.60,140.52 L468.90,141.15 L469.20,140.73 L469.50,140.59 L469.80,141.48 L470.10,141.27 L470.40,140.74 L470.70,141.25 L471.00,140.34 L471.30,140.61 L471.60,141.31 L471.90,140.98 L472.20,140.55 L472.50,141.19 L472.80,141.17 L473.10,141.57 L473.40,141.46 L473.70,141.00 L474.00,140.94 L474.30,141.10 L474.60,141.09 L474.90,141.76 L475.20,141.83 L475.50,141.76 L475.80,141.41 L476.10,141.20 L476.40,141.65 L476.70,141.21 L477.00,141.45 L477.30,140.79 L477.60,141.26 L477.90,141.94 L478.20,141.10 L478.50,140.97 L478.80,141.45 L479.10,142.09 L479.40,142.04 L479.70,141.46 L480.00,141.44 L480.30,141.57 L480.60,141.31 L480.90,141.63 L481.20,141.52 L481.50,141.15 L481.80,141.44 L482.10,141.55 L482.40,141.36 L482.70,141.29 L483.00,141.94 L483.30,142.26 L483.60,141.57 L483.90,141.53 L484.20,141.83 L484.50,141.60 L484.80,141.44 L485.10,142.13 L485.40,141.37 L485.70,141.47 L486.00,141.50 L486.30,141.43 L486.60,141.64 L486.90,141.90 L487.20,142.17 L487.50,141.93 L487.80,141.74 L488.10,141.36 L488.40,141.73 L488.70,141.46 L489.00,141.72 L489.30,142.06 L489.60,141.83 L489.90,141.71 L490.20,141.55 L490.50,141.77 L490.80,141.82 L491.10,141.51 L491.40,141.65 L491.70,142.06 L492.00,141.31 L492.30,141.68 L492.60,141.47 L492.90,142.27 L493.20,142.00 L493.50,141.98 L493.80,141.95 L494.10,141.92 L494.40,141.93 L494.70,141.40 L495.00,141.93 L495.30,142.03 L495.60,141.46 L495.90,142.11 L496.20,142.07 L496.50,141.45 L496.80,141.76 L497.10,141.81 L497.40,141.75 L497.70,142.01 L498.00,141.55 L498.30,141.85 L498.60,141.98 L498.90,142.12 L499.20,141.94 L499.50,141.87 L499.80,142.13 L500.10,141.40 L500.40,142.20 L500.70,141.87 L501.00,141.62 L501.30,141.85 L501.60,141.48 L501.90,141.43 L502.20,141.89 L502.50,141.78 L502.80,142.18 L503.10,141.76 L503.40,141.66 L503.70,141.76 L504.00,142.40 L504.30,142.02 L504.60,141.86 L504.90,141.77 L505.20,141.75 L505.50,142.00 L505.80,142.15 L506.10,142.34 L506.40,142.34 L506.70,142.13 L507.00,141.90 L507.30,141.85 L507.60,141.50 L507.90,141.83 L508.20,142.19 L508.50,142.01 L508.80,142.18 L509.10,141.77 L509.40,142.32 L509.70,142.18 L510.00,142.12 L510.30,142.21 L510.60,141.59 L510.90,142.00 L511.20,141.92 L511.50,142.40 L511.80,142.10 L512.10,142.03 L512.40,142.35 L512.70,141.92 L513.00,142.40 L513.30,142.01 L513.60,142.16 L513.90,141.98 L514.20,142.37 L514.50,141.71 L514.80,142.35" fill="none" stroke="#111" stroke-width="1.2"/>
<path d="M338.00,142.20 L338.30,142.27 L338.60,142.09 L338.90,142.23 L339.20,142.32 L339.50,142.22 L339.80,142.40 L340.10,141.94 L340.40,142.11 L340.70,141.95 L341.00,141.92 L341.30,142.03 L341.60,142.10 L341.90,142.12 L342.20,142.13 L342.50,142.40 L342.80,142.18 L343.10,141.65 L343.40,142.02 L343.70,141.83 L344.00,141.84 L344.30,142.23 L344.60,141.88 L344.90,141.48 L345.20,141.97 L345.50,141.83 L345.80,141.61 L346.10,141.66 L346.40,141.71 L346.70,141.84 L347.00,141.73 L347.30,141.83 L347.60,142.24 L347.90,141.60 L348.20,141.59 L348.50,141.71 L348.80,142.02 L349.10,141.57 L349.40,142.08 L349.70,141.39 L350.00,141.45 L350.30,141.68 L350.60,141.46 L350.90,141.51 L351.20,141.77 L351.50,141.83 L351.80,141.66 L352.10,141.55 L352.40,141.96 L352.70,141.70 L353.00,141.52 L353.30,141.89 L353.60,141.32 L353.90,141.59 L354.20,141.71 L354.50,141.52 L354.80,141.35 L355.10,141.57 L355.40,141.27 L355.70,141.20 L356.00,141.02 L356.30,141.65 L356.60,141.04 L356.90,141.51 L357.20,141.22 L357.50,140.96 L357.80,141.21 L358.10,141.03 L358.40,140.93 L358.70,140.36 L359.00,140.80 L359.30,141.03 L359.60,140.84 L359.90,140.97 L360.20,141.10 L360.50,140.65 L360.80,141.19 L361.10,139.82 L361.40,140.24 L361.70,139.30 L362.00,140.55 L362.30,140.21 L362.60,140.80 L362.90,139.91 L363.20,139.18 L363.50,140.48 L363.80,139.34 L364.10,139.31 L364.40,139.72 L364.70,140.01 L365.00,139.46 L365.30,139.71 L365.60,138.74 L365.90,140.29 L366.20,139.42 L366.50,139.44 L366.80,139.59 L367.10,139.33 L367.40,139.28 L367.70,138.68 L368.00,139.00 L368.30,139.20 L368.60,139.43 L368.90,138.80 L369.20,138.83 L369.50,138.89 L369.80,138.94 L370.10,138.69 L370.40,138.39 L370.70,138.19 L371.00,138.97 L371.30,138.48 L371.60,138.27 L371.90,140.04 L372.20,138.59 L372.50,138.52 L372.80,138.07 L373.10,137.37 L373.40,138.48 L373.70,137.74 L374.00,137.75 L374.30,138.23 L374.60,138.16 L374.90,137.64 L375.20,137.38 L375.50,138.44 L375.80,137.38 L376.10,136.24 L376.40,137.15 L376.70,136.61 L377.00,136.36 L377.30,136.60 L377.60,136.14 L377.90,137.13 L378.20,135.78 L378.50,135.64 L378.80,136.09 L379.10,134.73 L379.40,135.65 L379.70,134.73 L380.00,135.38 L380.30,133.62 L380.60,134.19 L380.90,132.31 L381.20,132.83 L381.50,132.82 L381.80,132.85 L382.10,133.70 L382.40,133.25 L382.70,130.25 L383.00,130.37 L383.30,131.74 L383.60,130.69 L383.90,128.72 L384.20,130.02 L384.50,128.19 L384.80,128.07 L385.10,127.32 L385.40,127.90 L385.70,129.96 L386.00,127.80 L386.30,126.97 L386.60,129.23 L386.90,125.89 L387.20,125.85 L387.50,125.37 L387.80,125.72 L388.10,124.58 L388.40,126.09 L388.70,123.87 L389.00,124.42 L389.30,123.69 L389.60,122.13 L389.90,121.63 L390.20,122.29 L390.50,119.38 L390.80,121.63 L391.10,121.34 L391.40,121.05 L391.70,120.43 L392.00,120.57 L392.30,119.37 L392.60,120.19 L392.90,117.08 L393.20,119.80 L393.50,117.24 L393.80,118.56 L394.10,117.01 L394.40,116.69 L394.70,115.85 L395.00,118.20 L395.30,114.75 L395.60,114.27 L395.90,115.84 L396.20,115.62 L396.50,115.07 L396.80,113.48 L397.10,113.62 L397.40,115.42 L397.70,112.56 L398.00,114.50 L398.30,114.39 L398.60,113.32 L398.90,111.22 L399.20,115.21 L399.50,112.51 L399.80,112.34 L400.10,111.28 L400.40,110.21 L400.70,110.89 L401.00,111.27 L401.30,109.53 L401.60,110.62 L401.90,111.82 L402.20,110.54 L402.50,109.51 L402.80,110.92 L403.10,110.57 L403.40,110.47 L403.70,107.99 L404.00,106.49 L404.30,110.24 L404.60,109.15 L404.90,108.50 L405.20,109.71 L405.50,108.33 L405.80,108.06 L406.10,111.54 L406.40,106.60 L406.70,110.09 L407.00,110.31 L407.30,111.39 L407.60,109.16 L407.90,109.50 L408.20,107.41 L408.50,108.75 L408.80,105.63 L409.10,107.83 L409.40,108.59 L409.70,108.45 L410.00,107.88 L410.30,110.24 L410.60,106.22 L410.90,108.77 L411.20,108.08 L411.50,108.83 L411.80,108.97 L412.10,111.82 L412.40,107.59 L412.70,111.17 L413.00,111.38 L413.30,109.29 L413.60,108.71 L413.90,107.94 L414.20,108.60 L414.50,112.86 L414.80,106.98 L415.10,110.82 L415.40,109.31 L415.70,113.09 L416.00,110.97 L416.30,108.74 L416.60,110.03 L416.90,111.15 L417.20,111.17 L417.50,109.79 L417.80,110.83 L418.10,110.71 L418.40,112.14 L418.70,111.97 L419.00,112.02 L419.30,111.02 L419.60,113.05 L419.90,111.31 L420.20,111.06 L420.50,111.74 L420.80,112.01 L421.10,112.16 L421.40,110.07 L421.70,114.67 L422.00,113.80 L422.30,114.86 L422.60,112.66 L422.90,114.33 L423.20,113.71 L423.50,113.61 L423.80,116.10 L424.10,113.02 L424.40,114.71 L424.70,111.76 L425.00,114.94 L425.30,114.08 L425.60,113.09 L425.90,113.72 L426.20,111.70 L426.50,113.01 L426.80,114.53 L427.10,110.70 L427.40,115.53 L427.70,115.28 L428.00,112.87 L428.30,111.78 L428.60,111.77 L428.90,111.82 L429.20,112.42 L429.50,116.26 L429.80,111.69 L430.10,114.13 L430.40,114.69 L430.70,111.60 L431.00,112.41 L431.30,113.59 L431.60,111.66 L431.90,114.16 L432.20,115.27 L432.50,112.09 L432.80,110.83 L433.10,112.60 L433.40,112.04 L433.70,110.33 L434.00,110.98 L434.30,111.10 L434.60,111.49 L434.90,112.20 L435.20,109.70 L435.50,108.34 L435.80,107.68 L436.10,112.45 L436.40,109.00 L436.70,108.81 L437.00,112.83 L437.30,110.83 L437.60,112.48 L437.90,109.01 L438.20,108.29 L438.50,108.54 L438.80,110.26 L439.10,109.95 L439.40,109.94 L439.70,112.64 L440.00,111.35 L440.30,107.86 L440.60,110.07 L440.90,110.32 L441.20,108.41 L441.50,112.92 L441.80,111.10 L442.10,112.24 L442.40,109.62 L442.70,109.05 L443.00,112.01 L443.30,110.97 L443.60,110.72 L443.90,111.70 L444.20,112.40 L444.50,112.66 L444.80,112.62 L445.10,114.07 L445.40,117.89 L445.70,116.13 L446.00,114.46 L446.30,118.35 L446.60,115.64 L446.90,114.86 L447.20,115.65 L447.50,115.41 L447.80,119.93 L448.10,117.74 L448.40,117.93 L448.70,119.53 L449.00,120.48 L449.30,119.78 L449.60,121.06 L449.90,122.21 L450.20,123.44 L450.50,122.16 L450.80,124.31 L451.10,124.48 L451.40,125.28 L451.70,124.63 L452.00,124.49 L452.30,127.16 L452.60,127.27 L452.90,126.51 L453.20,126.91 L453.50,128.83 L453.80,130.56 L454.10,129.50 L454.40,131.92 L454.70,130.30 L455.00,130.64 L455.30,131.02 L455.60,131.80 L455.90,129.84 L456.20,131.51 L456.50,132.70 L456.80,130.62 L457.10,132.36 L457.40,133.03 L457.70,134.05 L458.00,134.18 L458.30,133.19 L458.60,135.05 L458.90,132.91 L459.20,132.96 L459.50,135.23 L459.80,135.00 L460.10,133.98 L460.40,135.80 L460.70,135.90 L461.00,136.05 L461.30,135.54 L461.60,135.26 L461.90,135.28 L462.20,136.44 L462.50,136.65 L462.80,136.56 L463.10,136.63 L463.40,137.62 L463.70,136.50 L464.00,136.84 L464.30,138.53 L464.60,137.12 L464.90,137.22 L465.20,138.28 L465.50,136.78 L465.80,138.78 L466.10,137.29 L466.40,137.64 L466.70,137.51 L467.00,137.79 L467.30,138.01 L467.60,138.98 L467.90,138.57 L468.20,139.40 L468.50,139.19 L468.80,138.30 L469.10,139.02 L469.40,138.82 L469.70,139.01 L470.00,139.37 L470.30,139.59 L470.60,139.72 L470.90,138.69 L471.20,139.66 L471.50,139.63 L471.80,140.70 L472.10,139.89 L472.40,140.02 L472.70,140.07 L473.00,140.41 L473.30,139.66 L473.60,140.10 L473.90,140.14 L474.20,140.21 L474.50,140.15 L474.80,140.06 L475.10,140.34 L475.40,139.83 L475.70,140.99 L476.00,140.39 L476.30,139.74 L476.60,140.35 L476.90,140.84 L477.20,140.44 L477.50,140.49 L477.80,139.74 L478.10,141.12 L478.40,140.66 L478.70,139.96 L479.00,140.54 L479.30,141.24 L479.60,140.89 L479.90,140.27 L480.20,140.62 L480.50,140.93 L480.80,141.58 L481.10,140.99 L481.40,141.18 L481.70,140.86 L482.00,141.01 L482.30,140.70 L482.60,140.63 L482.90,140.65 L483.20,140.93 L483.50,141.54 L483.80,141.17 L484.10,141.57 L484.40,141.47 L484.70,141.31 L485.00,141.14 L485.30,141.95 L485.60,141.65 L485.90,141.69 L486.20,142.07 L486.50,141.79 L486.80,141.42 L487.10,141.48 L487.40,141.54 L487.70,142.04 L488.00,141.11 L488.30,140.89 L488.60,141.28 L488.90,141.43 L489.20,141.27 L489.50,141.71 L489.80,141.63 L490.10,141.46 L490.40,141.50 L490.70,142.02 L491.00,142.05 L491.30,141.99 L491.60,141.42 L491.90,141.87 L492.20,141.23 L492.50,141.06 L492.80,142.02 L493.10,141.81 L493.40,141.76 L493.70,141.97 L494.00,142.04 L494.30,141.69 L494.60,141.69 L494.90,141.79 L495.20,141.86 L495.50,141.70 L495.80,141.32 L496.10,142.31 L496.40,141.49 L496.70,141.54 L497.00,141.85 L497.30,141.70 L497.60,141.86 L497.90,142.33 L498.20,142.09 L498.50,141.64 L498.80,141.84 L499.10,141.76 L499.40,142.09 L499.70,141.58 L500.00,141.57 L500.30,141.41 L500.60,141.93 L500.90,141.91 L501.20,141.99 L501.50,142.02 L501.80,141.54 L502.10,141.74 L502.40,141.58 L502.70,142.13 L503.00,142.05 L503.30,141.51 L503.60,141.98 L503.90,141.88 L504.20,141.89 L504.50,142.02 L504.80,141.73 L505.10,141.80 L505.40,141.72 L505.70,141.73 L506.00,141.64 L506.30,142.15 L506.60,142.02 L506.90,141.84 L507.20,141.53 L507.50,142.40 L507.80,141.91 L508.10,141.96 L508.40,142.06 L508.70,142.30 L509.00,141.85 L509.30,141.40 L509.60,141.86 L509.90,141.93 L510.20,141.81 L510.50,142.26 L510.80,141.85 L511.10,142.02 L511.40,141.78 L511.70,142.12 L512.00,141.81 L512.30,142.14 L512.60,142.00 L512.90,142.01 L513.20,142.04 L513.50,141.64 L513.80,141.89 L514.10,142.03 L514.40,141.91 L514.70,142.25 L515.00,142.18 L515.30,141.85" fill="none" stroke="#000" stroke-width="1.9"/></g>
<rect x="337.3" y="38.8" width="179.20" height="103.60" fill="none" stroke="#4a4a4a" stroke-width="1.1"/>
<line x1="335.30" y1="142.40" x2="337.70" y2="142.40" stroke="#333" stroke-width="0.8"/>
<line x1="336.10" y1="138.95" x2="337.70" y2="138.95" stroke="#333" stroke-width="0.8"/>
<line x1="336.10" y1="135.49" x2="337.70" y2="135.49" stroke="#333" stroke-width="0.8"/>
<line x1="336.10" y1="132.04" x2="337.70" y2="132.04" stroke="#333" stroke-width="0.8"/>
<line x1="336.10" y1="128.59" x2="337.70" y2="128.59" stroke="#333" stroke-width="0.8"/>
<line x1="335.30" y1="125.13" x2="337.70" y2="125.13" stroke="#333" stroke-width="0.8"/>
<line x1="336.10" y1="121.68" x2="337.70" y2="121.68" stroke="#333" stroke-width="0.8"/>
<line x1="336.10" y1="118.23" x2="337.70" y2="118.23" stroke="#333" stroke-width="0.8"/>
<line x1="336.10" y1="114.77" x2="337.70" y2="114.77" stroke="#333" stroke-width="0.8"/>
<line x1="336.10" y1="111.32" x2="337.70" y2="111.32" stroke="#333" stroke-width="0.8"/>
<line x1="335.30" y1="107.87" x2="337.70" y2="107.87" stroke="#333" stroke-width="0.8"/>
<line x1="336.10" y1="104.41" x2="337.70" y2="104.41" stroke="#333" stroke-width="0.8"/>
<line x1="336.10" y1="100.96" x2="337.70" y2="100.96" stroke="#333" stroke-width="0.8"/>
<line x1="336.10" y1="97.51" x2="337.70" y2="97.51" stroke="#333" stroke-width="0.8"/>
<line x1="336.10" y1="94.05" x2="337.70" y2="94.05" stroke="#333" stroke-width="0.8"/>
<line x1="335.30" y1="90.60" x2="337.70" y2="90.60" stroke="#333" stroke-width="0.8"/>
<line x1="336.10" y1="87.15" x2="337.70" y2="87.15" stroke="#333" stroke-width="0.8"/>
<line x1="336.10" y1="83.69" x2="337.70" y2="83.69" stroke="#333" stroke-width="0.8"/>
<line x1="336.10" y1="80.24" x2="337.70" y2="80.24" stroke="#333" stroke-width="0.8"/>
<line x1="336.10" y1="76.79" x2="337.70" y2="76.79" stroke="#333" stroke-width="0.8"/>
<line x1="335.30" y1="73.33" x2="337.70" y2="73.33" stroke="#333" stroke-width="0.8"/>
<line x1="336.10" y1="69.88" x2="337.70" y2="69.88" stroke="#333" stroke-width="0.8"/>
<line x1="336.10" y1="66.43" x2="337.70" y2="66.43" stroke="#333" stroke-width="0.8"/>
<line x1="336.10" y1="62.97" x2="337.70" y2="62.97" stroke="#333" stroke-width="0.8"/>
<line x1="336.10" y1="59.52" x2="337.70" y2="59.52" stroke="#333" stroke-width="0.8"/>
<line x1="335.30" y1="56.07" x2="337.70" y2="56.07" stroke="#333" stroke-width="0.8"/>
<line x1="336.10" y1="52.61" x2="337.70" y2="52.61" stroke="#333" stroke-width="0.8"/>
<line x1="336.10" y1="49.16" x2="337.70" y2="49.16" stroke="#333" stroke-width="0.8"/>
<line x1="336.10" y1="45.71" x2="337.70" y2="45.71" stroke="#333" stroke-width="0.8"/>
<line x1="336.10" y1="42.25" x2="337.70" y2="42.25" stroke="#333" stroke-width="0.8"/>
<line x1="335.30" y1="38.80" x2="337.70" y2="38.80" stroke="#333" stroke-width="0.8"/>
<line x1="337.30" y1="142.00" x2="337.30" y2="144.40" stroke="#333" stroke-width="0.8"/>
<line x1="350.70" y1="142.00" x2="350.70" y2="143.60" stroke="#333" stroke-width="0.8"/>
<line x1="358.53" y1="142.00" x2="358.53" y2="143.60" stroke="#333" stroke-width="0.8"/>
<line x1="364.09" y1="142.00" x2="364.09" y2="143.60" stroke="#333" stroke-width="0.8"/>
<line x1="368.40" y1="142.00" x2="368.40" y2="143.60" stroke="#333" stroke-width="0.8"/>
<line x1="371.93" y1="142.00" x2="371.93" y2="143.60" stroke="#333" stroke-width="0.8"/>
<line x1="374.91" y1="142.00" x2="374.91" y2="143.60" stroke="#333" stroke-width="0.8"/>
<line x1="377.49" y1="142.00" x2="377.49" y2="143.60" stroke="#333" stroke-width="0.8"/>
<line x1="379.76" y1="142.00" x2="379.76" y2="143.60" stroke="#333" stroke-width="0.8"/>
<line x1="381.80" y1="142.00" x2="381.80" y2="144.40" stroke="#333" stroke-width="0.8"/>
<line x1="395.20" y1="142.00" x2="395.20" y2="143.60" stroke="#333" stroke-width="0.8"/>
<line x1="403.03" y1="142.00" x2="403.03" y2="143.60" stroke="#333" stroke-width="0.8"/>
<line x1="408.59" y1="142.00" x2="408.59" y2="143.60" stroke="#333" stroke-width="0.8"/>
<line x1="412.90" y1="142.00" x2="412.90" y2="143.60" stroke="#333" stroke-width="0.8"/>
<line x1="416.43" y1="142.00" x2="416.43" y2="143.60" stroke="#333" stroke-width="0.8"/>
<line x1="419.41" y1="142.00" x2="419.41" y2="143.60" stroke="#333" stroke-width="0.8"/>
<line x1="421.99" y1="142.00" x2="421.99" y2="143.60" stroke="#333" stroke-width="0.8"/>
<line x1="424.26" y1="142.00" x2="424.26" y2="143.60" stroke="#333" stroke-width="0.8"/>
<line x1="426.30" y1="142.00" x2="426.30" y2="144.40" stroke="#333" stroke-width="0.8"/>
<line x1="439.70" y1="142.00" x2="439.70" y2="143.60" stroke="#333" stroke-width="0.8"/>
<line x1="447.53" y1="142.00" x2="447.53" y2="143.60" stroke="#333" stroke-width="0.8"/>
<line x1="453.09" y1="142.00" x2="453.09" y2="143.60" stroke="#333" stroke-width="0.8"/>
<line x1="457.40" y1="142.00" x2="457.40" y2="143.60" stroke="#333" stroke-width="0.8"/>
<line x1="460.93" y1="142.00" x2="460.93" y2="143.60" stroke="#333" stroke-width="0.8"/>
<line x1="463.91" y1="142.00" x2="463.91" y2="143.60" stroke="#333" stroke-width="0.8"/>
<line x1="466.49" y1="142.00" x2="466.49" y2="143.60" stroke="#333" stroke-width="0.8"/>
<line x1="468.76" y1="142.00" x2="468.76" y2="143.60" stroke="#333" stroke-width="0.8"/>
<line x1="470.80" y1="142.00" x2="470.80" y2="144.40" stroke="#333" stroke-width="0.8"/>
<line x1="484.20" y1="142.00" x2="484.20" y2="143.60" stroke="#333" stroke-width="0.8"/>
<line x1="492.03" y1="142.00" x2="492.03" y2="143.60" stroke="#333" stroke-width="0.8"/>
<line x1="497.59" y1="142.00" x2="497.59" y2="143.60" stroke="#333" stroke-width="0.8"/>
<line x1="501.90" y1="142.00" x2="501.90" y2="143.60" stroke="#333" stroke-width="0.8"/>
<line x1="505.43" y1="142.00" x2="505.43" y2="143.60" stroke="#333" stroke-width="0.8"/>
<line x1="508.41" y1="142.00" x2="508.41" y2="143.60" stroke="#333" stroke-width="0.8"/>
<line x1="510.99" y1="142.00" x2="510.99" y2="143.60" stroke="#333" stroke-width="0.8"/>
<line x1="513.26" y1="142.00" x2="513.26" y2="143.60" stroke="#333" stroke-width="0.8"/>
<line x1="515.30" y1="142.40" x2="515.30" y2="144.40" stroke="#333" stroke-width="0.8"/>
<text transform="translate(333.10,142.40) rotate(-90)" text-anchor="middle" style="font-family:'Liberation Sans',sans-serif;font-weight:bold;font-size:5.0px" fill="#222">0</text>
<text transform="translate(333.10,125.13) rotate(-90)" text-anchor="middle" style="font-family:'Liberation Sans',sans-serif;font-weight:bold;font-size:5.0px" fill="#222">40</text>
<text transform="translate(333.10,107.87) rotate(-90)" text-anchor="middle" style="font-family:'Liberation Sans',sans-serif;font-weight:bold;font-size:5.0px" fill="#222">80</text>
<text transform="translate(333.10,90.60) rotate(-90)" text-anchor="middle" style="font-family:'Liberation Sans',sans-serif;font-weight:bold;font-size:5.0px" fill="#222">120</text>
<text transform="translate(333.10,73.33) rotate(-90)" text-anchor="middle" style="font-family:'Liberation Sans',sans-serif;font-weight:bold;font-size:5.0px" fill="#222">160</text>
<text transform="translate(333.10,56.07) rotate(-90)" text-anchor="middle" style="font-family:'Liberation Sans',sans-serif;font-weight:bold;font-size:5.0px" fill="#222">200</text>
<text transform="translate(333.10,38.80) rotate(-90)" text-anchor="middle" style="font-family:'Liberation Sans',sans-serif;font-weight:bold;font-size:5.0px" fill="#222">240</text>
<text transform="translate(328.60,92.00) rotate(-90)" text-anchor="middle" style="font-family:'Liberation Sans',sans-serif;font-weight:bold;font-size:4.8px" fill="#222">Counts</text>
<text x="336.70" y="151.30" text-anchor="middle" style="font-family:'Liberation Sans',sans-serif;font-weight:bold;font-size:4.6px" fill="#444">10<tspan dy="-1.84" style="font-size:3.22px">0</tspan></text>
<text x="381.20" y="151.30" text-anchor="middle" style="font-family:'Liberation Sans',sans-serif;font-weight:bold;font-size:4.6px" fill="#444">10<tspan dy="-1.84" style="font-size:3.22px">1</tspan></text>
<text x="425.70" y="151.30" text-anchor="middle" style="font-family:'Liberation Sans',sans-serif;font-weight:bold;font-size:4.6px" fill="#444">10<tspan dy="-1.84" style="font-size:3.22px">2</tspan></text>
<text x="470.20" y="151.30" text-anchor="middle" style="font-family:'Liberation Sans',sans-serif;font-weight:bold;font-size:4.6px" fill="#444">10<tspan dy="-1.84" style="font-size:3.22px">3</tspan></text>
<text x="514.70" y="151.30" text-anchor="middle" style="font-family:'Liberation Sans',sans-serif;font-weight:bold;font-size:4.6px" fill="#444">10<tspan dy="-1.84" style="font-size:3.22px">4</tspan></text>
<g clip-path="url(#h2)"><path d="M364.00,259.99 L364.30,259.94 L364.60,260.00 L364.90,259.66 L365.20,259.78 L365.50,259.49 L365.80,259.77 L366.10,259.59 L366.40,259.66 L366.70,259.36 L367.00,259.39 L367.30,259.23 L367.60,259.09 L367.90,259.04 L368.20,258.51 L368.50,258.21 L368.80,257.92 L369.10,257.30 L369.40,256.70 L369.70,256.86 L370.00,255.83 L370.30,255.15 L370.60,254.87 L370.90,254.17 L371.20,253.72 L371.50,253.23 L371.80,253.54 L372.10,252.32 L372.40,251.81 L372.70,251.41 L373.00,251.36 L373.30,249.89 L373.60,249.13 L373.90,249.85 L374.20,247.57 L374.50,247.46 L374.80,247.34 L375.10,247.51 L375.40,245.37 L375.70,243.92 L376.00,244.63 L376.30,243.16 L376.60,242.35 L376.90,241.93 L377.20,240.93 L377.50,240.09 L377.80,238.81 L378.10,238.94 L378.40,238.21 L378.70,236.45 L379.00,235.28 L379.30,235.15 L379.60,234.12 L379.90,232.26 L380.20,231.76 L380.50,231.90 L380.80,230.23 L381.10,229.16 L381.40,228.61 L381.70,227.50 L382.00,226.59 L382.30,224.24 L382.60,226.03 L382.90,223.95 L383.20,222.19 L383.50,222.69 L383.80,221.24 L384.10,220.08 L384.40,219.98 L384.70,220.04 L385.00,217.73 L385.30,217.66 L385.60,217.22 L385.90,213.64 L386.20,213.20 L386.50,213.51 L386.80,210.56 L387.10,211.01 L387.40,211.59 L387.70,210.58 L388.00,209.37 L388.30,206.34 L388.60,209.40 L388.90,206.97 L389.20,206.38 L389.50,205.33 L389.80,202.02 L390.10,200.60 L390.40,198.70 L390.70,199.68 L391.00,194.85 L391.30,193.34 L391.60,191.23 L391.90,190.00 L392.20,187.91 L392.50,185.88 L392.80,182.66 L393.10,179.18 L393.40,181.43 L393.70,180.14 L394.00,179.84 L394.30,176.93 L394.60,174.95 L394.90,174.73 L395.20,171.04 L395.50,170.23 L395.80,168.86 L396.10,169.01 L396.40,169.79 L396.70,166.79 L397.00,165.87 L397.30,163.36 L397.60,162.02 L397.90,159.71 L398.20,158.52 L398.50,154.40 L398.80,154.61 L399.10,153.24 L399.40,154.80 L399.70,153.45 L400.00,152.94 L400.30,152.76 L400.60,150.79 L400.90,154.24 L401.20,157.86 L401.50,157.83 L401.80,161.88 L402.10,163.61 L402.40,165.77 L402.70,172.15 L403.00,175.37 L403.30,180.73 L403.60,184.41 L403.90,189.09 L404.20,189.71 L404.50,196.51 L404.80,198.00 L405.10,198.55 L405.40,200.26 L405.70,203.39 L406.00,206.26 L406.30,208.27 L406.60,211.24 L406.90,212.98 L407.20,218.26 L407.50,224.71 L407.80,227.88 L408.10,229.94 L408.40,232.92 L408.70,234.84 L409.00,237.40 L409.30,240.92 L409.60,242.40 L409.90,245.34 L410.20,247.13 L410.50,248.13 L410.80,249.73 L411.10,251.60 L411.40,251.10 L411.70,251.71 L412.00,253.23 L412.30,253.52 L412.60,254.19 L412.90,255.33 L413.20,255.10 L413.50,256.39 L413.80,256.74 L414.10,257.39 L414.40,258.03 L414.70,258.67 L415.00,258.53 L415.30,258.33 L415.60,258.55 L415.90,259.06 L416.20,259.06 L416.50,258.82 L416.80,259.43 L417.10,259.11 L417.40,259.09 L417.70,259.32 L418.00,259.54 L418.30,259.70 L418.60,259.71 L418.90,259.64 L419.20,259.71 L419.50,259.72 L419.80,259.91 L419.80,260.10 L364.00,260.10 Z" fill="#bebebe" stroke="#555" stroke-width="0.6"/>
<path d="M333.50,259.10 L333.80,257.80 L334.10,257.66 L334.40,257.54 L334.70,257.93 L335.00,256.82 L335.30,255.66 L335.60,256.70 L335.90,255.60 L336.20,256.99 L336.50,255.88 L336.80,257.08 L337.10,255.66 L337.40,254.89 L337.70,254.42 L338.00,255.03 L338.30,255.45 L338.60,255.84 L338.90,255.02 L339.20,254.12 L339.50,254.90 L339.80,253.26 L340.10,254.61 L340.40,253.47 L340.70,255.10 L341.00,254.55 L341.30,253.90 L341.60,252.61 L341.90,253.75 L342.20,253.45 L342.50,252.52 L342.80,252.30 L343.10,253.79 L343.40,252.15 L343.70,252.70 L344.00,253.34 L344.30,250.51 L344.60,253.30 L344.90,252.38 L345.20,250.60 L345.50,250.08 L345.80,249.59 L346.10,251.47 L346.40,247.78 L346.70,251.05 L347.00,250.07 L347.30,248.98 L347.60,248.93 L347.90,248.85 L348.20,248.77 L348.50,249.75 L348.80,247.68 L349.10,249.55 L349.40,249.22 L349.70,247.64 L350.00,248.38 L350.30,246.77 L350.60,247.04 L350.90,247.05 L351.20,248.26 L351.50,245.39 L351.80,244.76 L352.10,244.48 L352.40,243.70 L352.70,242.04 L353.00,245.38 L353.30,241.59 L353.60,241.12 L353.90,240.43 L354.20,241.85 L354.50,244.54 L354.80,244.18 L355.10,240.79 L355.40,239.24 L355.70,237.85 L356.00,235.32 L356.30,236.89 L356.60,234.48 L356.90,236.90 L357.20,231.94 L357.50,229.58 L357.80,227.01 L358.10,225.94 L358.40,229.04 L358.70,227.46 L359.00,223.59 L359.30,221.73 L359.60,224.04 L359.90,221.70 L360.20,221.72 L360.50,220.09 L360.80,217.27 L361.10,213.90 L361.40,216.30 L361.70,214.77 L362.00,213.50 L362.30,213.72 L362.60,212.25 L362.90,207.61 L363.20,208.61 L363.50,200.76 L363.80,205.96 L364.10,202.82 L364.40,203.90 L364.70,202.41 L365.00,195.87 L365.30,195.78 L365.60,196.55 L365.90,189.83 L366.20,189.03 L366.50,184.76 L366.80,185.61 L367.10,182.39 L367.40,176.75 L367.70,172.39 L368.00,167.25 L368.30,173.48 L368.60,166.76 L368.90,163.16 L369.20,160.84 L369.50,155.50 L369.80,155.40 L370.10,150.21 L370.40,137.65 L370.70,144.42 L371.00,146.69 L371.30,148.89 L371.60,155.76 L371.90,164.91 L372.20,162.89 L372.50,166.02 L372.80,165.21 L373.10,157.01 L373.40,167.10 L373.70,161.93 L374.00,160.11 L374.30,163.91 L374.60,169.26 L374.90,161.53 L375.20,163.86 L375.50,169.03 L375.80,164.57 L376.10,168.58 L376.40,174.04 L376.70,178.05 L377.00,179.36 L377.30,182.07 L377.60,184.57 L377.90,182.12 L378.20,184.22 L378.50,186.15 L378.80,187.96 L379.10,193.62 L379.40,194.77 L379.70,189.03 L380.00,197.40 L380.30,195.35 L380.60,197.06 L380.90,204.75 L381.20,206.52 L381.50,207.82 L381.80,208.33 L382.10,212.62 L382.40,207.60 L382.70,213.73 L383.00,212.11 L383.30,214.00 L383.60,213.57 L383.90,221.85 L384.20,224.00 L384.50,223.84 L384.80,222.61 L385.10,225.63 L385.40,224.85 L385.70,227.84 L386.00,232.51 L386.30,234.11 L386.60,233.99 L386.90,235.65 L387.20,235.70 L387.50,237.97 L387.80,238.68 L388.10,241.13 L388.40,240.97 L388.70,244.40 L389.00,243.83 L389.30,245.40 L389.60,245.99 L389.90,248.94 L390.20,249.19 L390.50,248.33 L390.80,249.23 L391.10,251.76 L391.40,252.30 L391.70,253.01 L392.00,254.40 L392.30,256.28 L392.60,255.58 L392.90,256.92 L393.20,255.87 L393.50,256.27 L393.80,256.85 L394.10,256.84 L394.40,256.83 L394.70,256.76 L395.00,257.40 L395.30,257.61 L395.60,258.04 L395.90,258.76 L396.20,258.74 L396.50,259.22 L396.80,259.05 L397.10,259.36 L397.40,259.64 L397.70,259.87 L398.00,260.07" fill="none" stroke="#8a8a8a" stroke-width="0.8"/>
<path d="M360.00,259.89 L360.30,259.95 L360.60,259.59 L360.90,259.39 L361.20,259.01 L361.50,259.07 L361.80,259.38 L362.10,258.97 L362.40,259.06 L362.70,258.56 L363.00,258.46 L363.30,258.20 L363.60,257.12 L363.90,258.20 L364.20,257.86 L364.50,257.69 L364.80,256.32 L365.10,256.09 L365.40,256.39 L365.70,256.46 L366.00,256.61 L366.30,255.93 L366.60,255.72 L366.90,254.27 L367.20,254.39 L367.50,253.86 L367.80,252.37 L368.10,253.85 L368.40,252.23 L368.70,252.26 L369.00,249.76 L369.30,248.74 L369.60,248.12 L369.90,247.36 L370.20,247.21 L370.50,245.76 L370.80,243.89 L371.10,242.21 L371.40,241.74 L371.70,243.09 L372.00,238.77 L372.30,238.25 L372.60,236.03 L372.90,230.40 L373.20,230.40 L373.50,230.13 L373.80,221.54 L374.10,222.13 L374.40,220.01 L374.70,216.03 L375.00,215.56 L375.30,210.50 L375.60,202.72 L375.90,203.53 L376.20,198.67 L376.50,194.90 L376.80,191.92 L377.10,185.21 L377.40,181.19 L377.70,174.14 L378.00,176.58 L378.30,170.22 L378.60,168.63 L378.90,164.89 L379.20,164.96 L379.50,165.45 L379.80,170.20 L380.10,159.49 L380.40,160.73 L380.70,165.50 L381.00,168.79 L381.30,165.91 L381.60,158.64 L381.90,157.63 L382.20,167.60 L382.50,165.52 L382.80,165.91 L383.10,174.60 L383.40,178.31 L383.70,179.61 L384.00,183.88 L384.30,188.48 L384.60,195.75 L384.90,197.68 L385.20,202.03 L385.50,206.69 L385.80,206.45 L386.10,216.76 L386.40,219.68 L386.70,222.20 L387.00,220.91 L387.30,226.76 L387.60,232.17 L387.90,230.19 L388.20,234.98 L388.50,238.91 L388.80,237.63 L389.10,243.81 L389.40,244.21 L389.70,244.82 L390.00,246.52 L390.30,247.88 L390.60,248.29 L390.90,250.36 L391.20,249.51 L391.50,250.79 L391.80,253.12 L392.10,253.22 L392.40,253.36 L392.70,255.37 L393.00,256.09 L393.30,255.01 L393.60,254.67 L393.90,255.82 L394.20,256.11 L394.50,256.31 L394.80,257.62 L395.10,256.49 L395.40,258.05 L395.70,257.00 L396.00,257.57 L396.30,258.53 L396.60,259.02 L396.90,259.16 L397.20,259.24 L397.50,259.46 L397.80,259.65" fill="none" stroke="#2a2a2a" stroke-width="1.15"/>
<path d="M352.00,260.05 L352.30,260.10 L352.60,260.10 L352.90,260.08 L353.20,259.94 L353.50,259.84 L353.80,259.87 L354.10,259.66 L354.40,259.44 L354.70,259.35 L355.00,259.23 L355.30,259.56 L355.60,259.60 L355.90,259.86 L356.20,259.50 L356.50,259.39 L356.80,259.44 L357.10,259.13 L357.40,258.34 L357.70,259.16 L358.00,258.42 L358.30,258.50 L358.60,258.10 L358.90,259.30 L359.20,258.36 L359.50,257.84 L359.80,256.90 L360.10,257.72 L360.40,256.61 L360.70,257.51 L361.00,255.87 L361.30,256.46 L361.60,256.86 L361.90,255.63 L362.20,256.01 L362.50,255.83 L362.80,256.04 L363.10,254.75 L363.40,255.13 L363.70,255.71 L364.00,252.72 L364.30,252.74 L364.60,253.33 L364.90,252.03 L365.20,251.02 L365.50,252.92 L365.80,252.13 L366.10,251.86 L366.40,251.44 L366.70,250.71 L367.00,248.71 L367.30,246.48 L367.60,248.50 L367.90,246.05 L368.20,246.41 L368.50,245.97 L368.80,243.29 L369.10,243.52 L369.40,245.18 L369.70,243.22 L370.00,239.43 L370.30,240.39 L370.60,239.83 L370.90,239.78 L371.20,239.21 L371.50,237.29 L371.80,236.00 L372.10,236.31 L372.40,231.41 L372.70,233.78 L373.00,231.05 L373.30,228.20 L373.60,226.53 L373.90,226.37 L374.20,221.93 L374.50,218.83 L374.80,222.04 L375.10,222.22 L375.40,217.23 L375.70,215.43 L376.00,213.12 L376.30,209.03 L376.60,209.63 L376.90,208.33 L377.20,204.50 L377.50,204.23 L377.80,197.81 L378.10,198.48 L378.40,193.97 L378.70,192.34 L379.00,191.90 L379.30,189.44 L379.60,188.92 L379.90,186.27 L380.20,179.43 L380.50,183.48 L380.80,174.19 L381.10,176.33 L381.40,175.98 L381.70,173.58 L382.00,173.73 L382.30,171.09 L382.60,166.98 L382.90,170.42 L383.20,166.61 L383.50,162.71 L383.80,163.89 L384.10,162.13 L384.40,161.63 L384.70,157.52 L385.00,157.01 L385.30,152.19 L385.60,153.14 L385.90,144.53 L386.20,148.40 L386.50,144.28 L386.80,152.92 L387.10,166.22 L387.40,165.91 L387.70,166.78 L388.00,155.40 L388.30,149.91 L388.60,146.73 L388.90,147.51 L389.20,148.86 L389.50,151.52 L389.80,156.21 L390.10,169.75 L390.40,175.00 L390.70,185.14 L391.00,186.65 L391.30,188.22 L391.60,192.61 L391.90,199.07 L392.20,201.39 L392.50,205.49 L392.80,205.77 L393.10,209.25 L393.40,210.73 L393.70,210.54 L394.00,215.42 L394.30,217.73 L394.60,219.02 L394.90,223.70 L395.20,227.79 L395.50,228.12 L395.80,227.36 L396.10,226.98 L396.40,230.04 L396.70,230.89 L397.00,233.57 L397.30,236.55 L397.60,236.16 L397.90,235.56 L398.20,240.32 L398.50,239.71 L398.80,242.42 L399.10,240.75 L399.40,245.82 L399.70,242.60 L400.00,245.22 L400.30,247.02 L400.60,244.63 L400.90,247.57 L401.20,247.94 L401.50,251.83 L401.80,251.57 L402.10,250.64 L402.40,250.48 L402.70,250.98 L403.00,252.96 L403.30,252.69 L403.60,254.02 L403.90,253.84 L404.20,253.54 L404.50,256.30 L404.80,255.90 L405.10,255.66 L405.40,256.34 L405.70,257.67 L406.00,257.85 L406.30,257.37 L406.60,258.85 L406.90,258.22 L407.20,258.76 L407.50,258.16 L407.80,258.44 L408.10,259.05 L408.40,258.42 L408.70,258.94 L409.00,259.13 L409.30,258.85 L409.60,259.60 L409.90,259.42 L410.20,259.25 L410.50,259.66 L410.80,259.82 L411.10,259.85 L411.40,259.56 L411.70,259.86 L412.00,259.83 L412.30,259.59 L412.60,259.83 L412.90,260.10" fill="none" stroke="#000" stroke-width="1.9"/></g>
<rect x="332.8" y="153.9" width="183.40" height="106.20" fill="none" stroke="#4a4a4a" stroke-width="1.1"/>
<line x1="330.80" y1="260.10" x2="333.20" y2="260.10" stroke="#333" stroke-width="0.8"/>
<line x1="331.60" y1="256.56" x2="333.20" y2="256.56" stroke="#333" stroke-width="0.8"/>
<line x1="331.60" y1="253.02" x2="333.20" y2="253.02" stroke="#333" stroke-width="0.8"/>
<line x1="331.60" y1="249.48" x2="333.20" y2="249.48" stroke="#333" stroke-width="0.8"/>
<line x1="331.60" y1="245.94" x2="333.20" y2="245.94" stroke="#333" stroke-width="0.8"/>
<line x1="330.80" y1="242.40" x2="333.20" y2="242.40" stroke="#333" stroke-width="0.8"/>
<line x1="331.60" y1="238.86" x2="333.20" y2="238.86" stroke="#333" stroke-width="0.8"/>
<line x1="331.60" y1="235.32" x2="333.20" y2="235.32" stroke="#333" stroke-width="0.8"/>
<line x1="331.60" y1="231.78" x2="333.20" y2="231.78" stroke="#333" stroke-width="0.8"/>
<line x1="331.60" y1="228.24" x2="333.20" y2="228.24" stroke="#333" stroke-width="0.8"/>
<line x1="330.80" y1="224.70" x2="333.20" y2="224.70" stroke="#333" stroke-width="0.8"/>
<line x1="331.60" y1="221.16" x2="333.20" y2="221.16" stroke="#333" stroke-width="0.8"/>
<line x1="331.60" y1="217.62" x2="333.20" y2="217.62" stroke="#333" stroke-width="0.8"/>
<line x1="331.60" y1="214.08" x2="333.20" y2="214.08" stroke="#333" stroke-width="0.8"/>
<line x1="331.60" y1="210.54" x2="333.20" y2="210.54" stroke="#333" stroke-width="0.8"/>
<line x1="330.80" y1="207.00" x2="333.20" y2="207.00" stroke="#333" stroke-width="0.8"/>
<line x1="331.60" y1="203.46" x2="333.20" y2="203.46" stroke="#333" stroke-width="0.8"/>
<line x1="331.60" y1="199.92" x2="333.20" y2="199.92" stroke="#333" stroke-width="0.8"/>
<line x1="331.60" y1="196.38" x2="333.20" y2="196.38" stroke="#333" stroke-width="0.8"/>
<line x1="331.60" y1="192.84" x2="333.20" y2="192.84" stroke="#333" stroke-width="0.8"/>
<line x1="330.80" y1="189.30" x2="333.20" y2="189.30" stroke="#333" stroke-width="0.8"/>
<line x1="331.60" y1="185.76" x2="333.20" y2="185.76" stroke="#333" stroke-width="0.8"/>
<line x1="331.60" y1="182.22" x2="333.20" y2="182.22" stroke="#333" stroke-width="0.8"/>
<line x1="331.60" y1="178.68" x2="333.20" y2="178.68" stroke="#333" stroke-width="0.8"/>
<line x1="331.60" y1="175.14" x2="333.20" y2="175.14" stroke="#333" stroke-width="0.8"/>
<line x1="330.80" y1="171.60" x2="333.20" y2="171.60" stroke="#333" stroke-width="0.8"/>
<line x1="331.60" y1="168.06" x2="333.20" y2="168.06" stroke="#333" stroke-width="0.8"/>
<line x1="331.60" y1="164.52" x2="333.20" y2="164.52" stroke="#333" stroke-width="0.8"/>
<line x1="331.60" y1="160.98" x2="333.20" y2="160.98" stroke="#333" stroke-width="0.8"/>
<line x1="331.60" y1="157.44" x2="333.20" y2="157.44" stroke="#333" stroke-width="0.8"/>
<line x1="330.80" y1="153.90" x2="333.20" y2="153.90" stroke="#333" stroke-width="0.8"/>
<line x1="332.80" y1="259.70" x2="332.80" y2="262.10" stroke="#333" stroke-width="0.8"/>
<line x1="346.51" y1="259.70" x2="346.51" y2="261.30" stroke="#333" stroke-width="0.8"/>
<line x1="354.53" y1="259.70" x2="354.53" y2="261.30" stroke="#333" stroke-width="0.8"/>
<line x1="360.22" y1="259.70" x2="360.22" y2="261.30" stroke="#333" stroke-width="0.8"/>
<line x1="364.64" y1="259.70" x2="364.64" y2="261.30" stroke="#333" stroke-width="0.8"/>
<line x1="368.24" y1="259.70" x2="368.24" y2="261.30" stroke="#333" stroke-width="0.8"/>
<line x1="371.29" y1="259.70" x2="371.29" y2="261.30" stroke="#333" stroke-width="0.8"/>
<line x1="373.94" y1="259.70" x2="373.94" y2="261.30" stroke="#333" stroke-width="0.8"/>
<line x1="376.27" y1="259.70" x2="376.27" y2="261.30" stroke="#333" stroke-width="0.8"/>
<line x1="378.35" y1="259.70" x2="378.35" y2="262.10" stroke="#333" stroke-width="0.8"/>
<line x1="392.06" y1="259.70" x2="392.06" y2="261.30" stroke="#333" stroke-width="0.8"/>
<line x1="400.08" y1="259.70" x2="400.08" y2="261.30" stroke="#333" stroke-width="0.8"/>
<line x1="405.77" y1="259.70" x2="405.77" y2="261.30" stroke="#333" stroke-width="0.8"/>
<line x1="410.19" y1="259.70" x2="410.19" y2="261.30" stroke="#333" stroke-width="0.8"/>
<line x1="413.79" y1="259.70" x2="413.79" y2="261.30" stroke="#333" stroke-width="0.8"/>
<line x1="416.84" y1="259.70" x2="416.84" y2="261.30" stroke="#333" stroke-width="0.8"/>
<line x1="419.49" y1="259.70" x2="419.49" y2="261.30" stroke="#333" stroke-width="0.8"/>
<line x1="421.82" y1="259.70" x2="421.82" y2="261.30" stroke="#333" stroke-width="0.8"/>
<line x1="423.90" y1="259.70" x2="423.90" y2="262.10" stroke="#333" stroke-width="0.8"/>
<line x1="437.61" y1="259.70" x2="437.61" y2="261.30" stroke="#333" stroke-width="0.8"/>
<line x1="445.63" y1="259.70" x2="445.63" y2="261.30" stroke="#333" stroke-width="0.8"/>
<line x1="451.32" y1="259.70" x2="451.32" y2="261.30" stroke="#333" stroke-width="0.8"/>
<line x1="455.74" y1="259.70" x2="455.74" y2="261.30" stroke="#333" stroke-width="0.8"/>
<line x1="459.34" y1="259.70" x2="459.34" y2="261.30" stroke="#333" stroke-width="0.8"/>
<line x1="462.39" y1="259.70" x2="462.39" y2="261.30" stroke="#333" stroke-width="0.8"/>
<line x1="465.04" y1="259.70" x2="465.04" y2="261.30" stroke="#333" stroke-width="0.8"/>
<line x1="467.37" y1="259.70" x2="467.37" y2="261.30" stroke="#333" stroke-width="0.8"/>
<line x1="469.45" y1="259.70" x2="469.45" y2="262.10" stroke="#333" stroke-width="0.8"/>
<line x1="483.16" y1="259.70" x2="483.16" y2="261.30" stroke="#333" stroke-width="0.8"/>
<line x1="491.18" y1="259.70" x2="491.18" y2="261.30" stroke="#333" stroke-width="0.8"/>
<line x1="496.87" y1="259.70" x2="496.87" y2="261.30" stroke="#333" stroke-width="0.8"/>
<line x1="501.29" y1="259.70" x2="501.29" y2="261.30" stroke="#333" stroke-width="0.8"/>
<line x1="504.89" y1="259.70" x2="504.89" y2="261.30" stroke="#333" stroke-width="0.8"/>
<line x1="507.94" y1="259.70" x2="507.94" y2="261.30" stroke="#333" stroke-width="0.8"/>
<line x1="510.59" y1="259.70" x2="510.59" y2="261.30" stroke="#333" stroke-width="0.8"/>
<line x1="512.92" y1="259.70" x2="512.92" y2="261.30" stroke="#333" stroke-width="0.8"/>
<line x1="515.00" y1="260.10" x2="515.00" y2="262.10" stroke="#333" stroke-width="0.8"/>
<text transform="translate(330.30,260.10) rotate(-90)" text-anchor="middle" style="font-family:'Liberation Sans',sans-serif;font-weight:bold;font-size:4.3px" fill="#222">0</text>
<text transform="translate(330.30,238.86) rotate(-90)" text-anchor="middle" style="font-family:'Liberation Sans',sans-serif;font-weight:bold;font-size:4.3px" fill="#222">30</text>
<text transform="translate(330.30,217.62) rotate(-90)" text-anchor="middle" style="font-family:'Liberation Sans',sans-serif;font-weight:bold;font-size:4.3px" fill="#222">60</text>
<text transform="translate(330.30,196.38) rotate(-90)" text-anchor="middle" style="font-family:'Liberation Sans',sans-serif;font-weight:bold;font-size:4.3px" fill="#222">90</text>
<text transform="translate(330.30,175.14) rotate(-90)" text-anchor="middle" style="font-family:'Liberation Sans',sans-serif;font-weight:bold;font-size:4.3px" fill="#222">120</text>
<text transform="translate(330.30,153.90) rotate(-90)" text-anchor="middle" style="font-family:'Liberation Sans',sans-serif;font-weight:bold;font-size:4.3px" fill="#222">150</text>
<text transform="translate(325.60,208.70) rotate(-90)" text-anchor="middle" style="font-family:'Liberation Sans',sans-serif;font-weight:bold;font-size:4.4px" fill="#222">Counts</text>
<text x="332.20" y="267.00" text-anchor="middle" style="font-family:'Liberation Sans',sans-serif;font-weight:bold;font-size:4.4px" fill="#444">10<tspan dy="-1.76" style="font-size:3.08px">0</tspan></text>
<text x="377.75" y="267.00" text-anchor="middle" style="font-family:'Liberation Sans',sans-serif;font-weight:bold;font-size:4.4px" fill="#444">10<tspan dy="-1.76" style="font-size:3.08px">1</tspan></text>
<text x="423.30" y="267.00" text-anchor="middle" style="font-family:'Liberation Sans',sans-serif;font-weight:bold;font-size:4.4px" fill="#444">10<tspan dy="-1.76" style="font-size:3.08px">2</tspan></text>
<text x="468.85" y="267.00" text-anchor="middle" style="font-family:'Liberation Sans',sans-serif;font-weight:bold;font-size:4.4px" fill="#444">10<tspan dy="-1.76" style="font-size:3.08px">3</tspan></text>
<text x="514.40" y="267.00" text-anchor="middle" style="font-family:'Liberation Sans',sans-serif;font-weight:bold;font-size:4.4px" fill="#444">10<tspan dy="-1.76" style="font-size:3.08px">4</tspan></text>
<g clip-path="url(#h3)"><path d="M355.00,379.51 L355.30,379.57 L355.60,379.62 L355.90,379.60 L356.20,379.52 L356.50,379.36 L356.80,379.34 L357.10,379.23 L357.40,379.07 L357.70,379.11 L358.00,379.23 L358.30,379.10 L358.60,378.98 L358.90,378.84 L359.20,378.91 L359.50,378.80 L359.80,378.83 L360.10,378.84 L360.40,378.41 L360.70,378.67 L361.00,378.42 L361.30,378.44 L361.60,378.32 L361.90,378.55 L362.20,378.28 L362.50,378.01 L362.80,377.53 L363.10,377.13 L363.40,377.09 L363.70,376.96 L364.00,376.65 L364.30,376.58 L364.60,376.08 L364.90,376.37 L365.20,375.84 L365.50,375.95 L365.80,375.22 L366.10,374.78 L366.40,374.24 L366.70,374.35 L367.00,374.05 L367.30,373.40 L367.60,373.10 L367.90,372.49 L368.20,372.05 L368.50,371.71 L368.80,370.75 L369.10,370.68 L369.40,370.69 L369.70,370.34 L370.00,370.34 L370.30,369.78 L370.60,369.32 L370.90,368.78 L371.20,367.42 L371.50,368.00 L371.80,367.18 L372.10,367.36 L372.40,366.58 L372.70,366.13 L373.00,365.60 L373.30,365.29 L373.60,364.05 L373.90,363.79 L374.20,364.74 L374.50,363.93 L374.80,363.07 L375.10,362.73 L375.40,362.38 L375.70,363.95 L376.00,362.20 L376.30,361.60 L376.60,360.92 L376.90,359.68 L377.20,360.71 L377.50,361.08 L377.80,360.51 L378.10,359.82 L378.40,359.01 L378.70,358.36 L379.00,358.77 L379.30,358.22 L379.60,357.56 L379.90,358.99 L380.20,357.27 L380.50,357.30 L380.80,356.01 L381.10,358.23 L381.40,356.92 L381.70,356.77 L382.00,356.78 L382.30,355.90 L382.60,355.83 L382.90,356.18 L383.20,355.30 L383.50,355.80 L383.80,356.15 L384.10,355.67 L384.40,355.88 L384.70,355.46 L385.00,355.75 L385.30,354.77 L385.60,354.86 L385.90,353.91 L386.20,354.48 L386.50,354.14 L386.80,354.55 L387.10,353.94 L387.40,354.79 L387.70,356.21 L388.00,354.11 L388.30,354.95 L388.60,354.99 L388.90,354.13 L389.20,354.41 L389.50,354.26 L389.80,354.87 L390.10,354.19 L390.40,356.23 L390.70,355.20 L391.00,355.51 L391.30,356.34 L391.60,356.05 L391.90,355.33 L392.20,355.83 L392.50,355.83 L392.80,356.17 L393.10,356.80 L393.40,355.21 L393.70,355.60 L394.00,356.62 L394.30,357.28 L394.60,356.92 L394.90,357.30 L395.20,358.27 L395.50,358.22 L395.80,357.96 L396.10,358.03 L396.40,357.60 L396.70,359.01 L397.00,359.12 L397.30,358.86 L397.60,360.02 L397.90,359.88 L398.20,360.24 L398.50,359.87 L398.80,361.59 L399.10,361.04 L399.40,361.95 L399.70,362.25 L400.00,362.20 L400.30,362.84 L400.60,363.14 L400.90,363.52 L401.20,364.14 L401.50,364.12 L401.80,365.16 L402.10,365.27 L402.40,365.06 L402.70,366.20 L403.00,366.21 L403.30,367.00 L403.60,366.14 L403.90,367.73 L404.20,366.98 L404.50,368.13 L404.80,370.01 L405.10,369.30 L405.40,369.81 L405.70,369.45 L406.00,369.65 L406.30,370.42 L406.60,370.96 L406.90,371.12 L407.20,371.27 L407.50,371.56 L407.80,372.07 L408.10,373.06 L408.40,372.76 L408.70,372.86 L409.00,373.11 L409.30,373.11 L409.60,373.21 L409.90,373.90 L410.20,374.48 L410.50,374.44 L410.80,374.11 L411.10,375.17 L411.40,375.02 L411.70,375.69 L412.00,375.35 L412.30,375.25 L412.60,375.88 L412.90,376.00 L413.20,375.99 L413.50,376.30 L413.80,376.55 L414.10,376.57 L414.40,376.98 L414.70,376.98 L415.00,376.89 L415.30,376.99 L415.60,377.33 L415.90,377.30 L416.20,377.05 L416.50,377.42 L416.80,377.79 L417.10,377.58 L417.40,377.43 L417.70,377.96 L418.00,378.21 L418.30,377.85 L418.60,377.48 L418.90,377.71 L419.20,378.38 L419.50,378.10 L419.80,378.32 L420.10,378.37 L420.40,378.38 L420.70,378.70 L421.00,378.54 L421.30,378.67 L421.60,378.71 L421.90,378.77 L422.20,379.15 L422.50,378.74 L422.80,378.80 L423.10,379.17 L423.40,378.96 L423.70,379.20 L424.00,379.15 L424.30,379.43 L424.60,379.41 L424.90,379.52 L424.90,379.70 L355.00,379.70 Z" fill="#bebebe" stroke="#555" stroke-width="0.6"/>
<path d="M335.00,379.04 L335.30,379.08 L335.60,378.93 L335.90,378.89 L336.20,379.08 L336.50,378.23 L336.80,378.54 L337.10,378.38 L337.40,378.13 L337.70,378.29 L338.00,378.22 L338.30,379.05 L338.60,378.12 L338.90,377.89 L339.20,378.14 L339.50,377.24 L339.80,377.31 L340.10,377.67 L340.40,377.03 L340.70,376.62 L341.00,376.62 L341.30,376.05 L341.60,377.13 L341.90,377.02 L342.20,377.59 L342.50,375.84 L342.80,375.69 L343.10,375.53 L343.40,375.77 L343.70,375.29 L344.00,375.58 L344.30,374.73 L344.60,373.84 L344.90,375.57 L345.20,374.04 L345.50,374.95 L345.80,373.76 L346.10,373.90 L346.40,372.46 L346.70,372.74 L347.00,373.52 L347.30,373.48 L347.60,372.70 L347.90,372.79 L348.20,371.10 L348.50,372.34 L348.80,371.60 L349.10,371.12 L349.40,372.02 L349.70,371.20 L350.00,370.66 L350.30,370.86 L350.60,370.67 L350.90,370.57 L351.20,370.68 L351.50,370.06 L351.80,371.03 L352.10,371.27 L352.40,370.22 L352.70,368.17 L353.00,366.95 L353.30,367.06 L353.60,365.54 L353.90,366.32 L354.20,364.19 L354.50,363.55 L354.80,361.46 L355.10,361.42 L355.40,358.97 L355.70,357.55 L356.00,358.62 L356.30,355.72 L356.60,355.08 L356.90,355.82 L357.20,355.55 L357.50,352.08 L357.80,350.07 L358.10,350.58 L358.40,349.60 L358.70,347.65 L359.00,344.13 L359.30,343.41 L359.60,344.64 L359.90,339.65 L360.20,340.03 L360.50,340.32 L360.80,338.18 L361.10,333.29 L361.40,332.11 L361.70,330.41 L362.00,326.81 L362.30,327.31 L362.60,323.60 L362.90,324.75 L363.20,319.41 L363.50,318.48 L363.80,316.70 L364.10,316.27 L364.40,308.90 L364.70,314.69 L365.00,310.21 L365.30,309.24 L365.60,310.01 L365.90,305.34 L366.20,304.48 L366.50,301.99 L366.80,301.94 L367.10,299.76 L367.40,299.22 L367.70,294.83 L368.00,291.30 L368.30,293.85 L368.60,289.54 L368.90,291.53 L369.20,289.93 L369.50,284.44 L369.80,288.27 L370.10,285.75 L370.40,284.10 L370.70,281.91 L371.00,286.76 L371.30,286.28 L371.60,280.64 L371.90,279.85 L372.20,279.40 L372.50,277.83 L372.80,281.19 L373.10,275.92 L373.40,280.33 L373.70,270.36 L374.00,271.30 L374.30,277.93 L374.60,273.91 L374.90,269.19 L375.20,281.67 L375.50,279.08 L375.80,279.92 L376.10,274.08 L376.40,285.12 L376.70,284.64 L377.00,286.35 L377.30,288.13 L377.60,287.01 L377.90,290.98 L378.20,297.43 L378.50,301.15 L378.80,302.81 L379.10,304.74 L379.40,307.10 L379.70,310.93 L380.00,317.83 L380.30,316.32 L380.60,316.10 L380.90,323.38 L381.20,324.64 L381.50,325.88 L381.80,328.23 L382.10,334.65 L382.40,334.63 L382.70,338.11 L383.00,339.34 L383.30,344.76 L383.60,344.00 L383.90,345.79 L384.20,345.93 L384.50,348.20 L384.80,353.40 L385.10,352.25 L385.40,356.81 L385.70,357.85 L386.00,359.24 L386.30,360.58 L386.60,361.72 L386.90,364.40 L387.20,364.64 L387.50,364.50 L387.80,367.04 L388.10,370.13 L388.40,369.11 L388.70,371.27 L389.00,372.07 L389.30,373.43 L389.60,372.37 L389.90,374.34 L390.20,373.03 L390.50,374.23 L390.80,373.80 L391.10,375.01 L391.40,374.93 L391.70,374.81 L392.00,376.22 L392.30,375.92 L392.60,377.14 L392.90,376.03 L393.20,378.24 L393.50,377.91 L393.80,378.95 L394.10,378.94 L394.40,379.02 L394.70,379.14 L395.00,379.14 L395.30,379.44 L395.60,379.26 L395.90,378.99 L396.20,379.29 L396.50,379.49 L396.80,379.42 L397.10,379.47 L397.40,379.54 L397.70,378.96 L398.00,379.52 L398.30,379.70 L398.60,379.62 L398.90,379.48 L399.20,379.36 L399.50,379.48 L399.80,379.70" fill="none" stroke="#8a8a8a" stroke-width="0.8"/>
<path d="M355.00,379.05 L355.30,379.38 L355.60,379.45 L355.90,378.89 L356.20,378.49 L356.50,378.78 L356.80,378.86 L357.10,378.98 L357.40,377.97 L357.70,377.81 L358.00,378.50 L358.30,378.29 L358.60,378.65 L358.90,378.30 L359.20,377.68 L359.50,377.48 L359.80,378.77 L360.10,377.23 L360.40,376.85 L360.70,376.53 L361.00,377.07 L361.30,376.98 L361.60,376.55 L361.90,376.44 L362.20,376.27 L362.50,376.10 L362.80,375.95 L363.10,374.90 L363.40,372.96 L363.70,374.39 L364.00,372.26 L364.30,372.81 L364.60,371.24 L364.90,372.05 L365.20,370.89 L365.50,371.35 L365.80,373.85 L366.10,370.20 L366.40,370.64 L366.70,368.00 L367.00,368.60 L367.30,369.15 L367.60,367.92 L367.90,368.01 L368.20,367.33 L368.50,365.68 L368.80,367.08 L369.10,365.09 L369.40,367.86 L369.70,364.64 L370.00,365.69 L370.30,364.46 L370.60,365.26 L370.90,362.92 L371.20,364.56 L371.50,362.73 L371.80,364.15 L372.10,362.93 L372.40,361.90 L372.70,360.26 L373.00,361.97 L373.30,361.20 L373.60,362.49 L373.90,359.37 L374.20,360.38 L374.50,360.02 L374.80,359.41 L375.10,359.00 L375.40,358.66 L375.70,357.22 L376.00,356.31 L376.30,356.91 L376.60,358.08 L376.90,359.17 L377.20,358.08 L377.50,357.90 L377.80,357.19 L378.10,356.78 L378.40,355.68 L378.70,356.30 L379.00,357.59 L379.30,354.04 L379.60,353.24 L379.90,357.26 L380.20,354.34 L380.50,355.30 L380.80,354.96 L381.10,351.52 L381.40,357.10 L381.70,355.85 L382.00,353.05 L382.30,353.80 L382.60,352.58 L382.90,350.72 L383.20,351.79 L383.50,352.40 L383.80,353.44 L384.10,352.58 L384.40,351.29 L384.70,353.28 L385.00,349.55 L385.30,352.04 L385.60,352.47 L385.90,349.99 L386.20,347.33 L386.50,348.73 L386.80,350.57 L387.10,350.97 L387.40,352.61 L387.70,348.13 L388.00,349.75 L388.30,350.76 L388.60,349.26 L388.90,345.34 L389.20,350.72 L389.50,353.23 L389.80,350.86 L390.10,347.41 L390.40,348.19 L390.70,349.26 L391.00,353.24 L391.30,350.08 L391.60,349.31 L391.90,351.91 L392.20,349.18 L392.50,352.64 L392.80,348.34 L393.10,348.81 L393.40,350.97 L393.70,352.28 L394.00,351.06 L394.30,350.56 L394.60,347.03 L394.90,349.03 L395.20,349.31 L395.50,349.55 L395.80,351.55 L396.10,350.09 L396.40,352.21 L396.70,351.40 L397.00,351.26 L397.30,352.61 L397.60,353.72 L397.90,355.01 L398.20,353.49 L398.50,354.49 L398.80,353.35 L399.10,358.52 L399.40,358.87 L399.70,357.02 L400.00,357.19 L400.30,356.70 L400.60,359.34 L400.90,359.98 L401.20,363.30 L401.50,361.21 L401.80,360.41 L402.10,358.82 L402.40,364.48 L402.70,363.48 L403.00,361.81 L403.30,364.65 L403.60,363.07 L403.90,369.73 L404.20,367.44 L404.50,367.25 L404.80,366.79 L405.10,365.00 L405.40,367.63 L405.70,366.49 L406.00,369.19 L406.30,366.73 L406.60,368.42 L406.90,370.96 L407.20,371.74 L407.50,369.39 L407.80,369.47 L408.10,372.12 L408.40,372.47 L408.70,371.23 L409.00,371.90 L409.30,372.30 L409.60,372.31 L409.90,373.08 L410.20,374.86 L410.50,374.62 L410.80,375.81 L411.10,374.38 L411.40,374.52 L411.70,374.10 L412.00,374.89 L412.30,374.25 L412.60,374.13 L412.90,375.97 L413.20,376.62 L413.50,376.39 L413.80,376.86 L414.10,376.36 L414.40,375.96 L414.70,376.61 L415.00,376.53 L415.30,376.30 L415.60,376.19 L415.90,376.50 L416.20,377.44 L416.50,377.69 L416.80,377.57 L417.10,378.61 L417.40,378.22 L417.70,378.56 L418.00,378.92 L418.30,378.22 L418.60,377.82 L418.90,378.86 L419.20,378.36 L419.50,379.12 L419.80,378.79 L420.10,379.05 L420.40,378.99 L420.70,378.02 L421.00,379.02 L421.30,378.57 L421.60,378.57 L421.90,378.71 L422.20,379.14 L422.50,379.20 L422.80,379.27 L423.10,378.44 L423.40,378.81 L423.70,378.29 L424.00,379.02 L424.30,379.26 L424.60,378.88 L424.90,379.20 L425.20,379.23 L425.50,379.47 L425.80,378.99 L426.10,379.02 L426.40,379.07 L426.70,379.70 L427.00,379.61 L427.30,379.32 L427.60,379.44 L427.90,379.44 L428.20,379.48 L428.50,379.41 L428.80,379.42 L429.10,379.24 L429.40,379.41 L429.70,379.70 L430.00,379.70" fill="none" stroke="#2a2a2a" stroke-width="1.15"/>
<path d="M345.00,379.11 L345.30,379.41 L345.60,379.27 L345.90,379.19 L346.20,379.46 L346.50,379.24 L346.80,379.12 L347.10,379.56 L347.40,379.00 L347.70,378.77 L348.00,378.70 L348.30,378.87 L348.60,379.14 L348.90,379.15 L349.20,379.20 L349.50,379.36 L349.80,379.29 L350.10,378.97 L350.40,379.13 L350.70,378.91 L351.00,378.53 L351.30,378.90 L351.60,378.64 L351.90,378.53 L352.20,379.16 L352.50,378.76 L352.80,378.33 L353.10,378.42 L353.40,379.16 L353.70,378.30 L354.00,378.55 L354.30,378.36 L354.60,378.07 L354.90,377.79 L355.20,377.03 L355.50,376.70 L355.80,376.50 L356.10,376.08 L356.40,376.34 L356.70,376.42 L357.00,374.78 L357.30,375.26 L357.60,374.04 L357.90,373.87 L358.20,373.82 L358.50,373.71 L358.80,373.02 L359.10,371.23 L359.40,373.61 L359.70,372.14 L360.00,371.55 L360.30,372.18 L360.60,370.91 L360.90,369.94 L361.20,371.08 L361.50,370.70 L361.80,369.32 L362.10,370.24 L362.40,369.37 L362.70,367.58 L363.00,369.60 L363.30,367.81 L363.60,366.03 L363.90,367.00 L364.20,366.20 L364.50,366.52 L364.80,363.77 L365.10,365.63 L365.40,365.05 L365.70,364.32 L366.00,363.74 L366.30,364.00 L366.60,362.88 L366.90,361.76 L367.20,360.20 L367.50,361.87 L367.80,361.24 L368.10,359.97 L368.40,359.31 L368.70,359.49 L369.00,355.16 L369.30,358.03 L369.60,354.12 L369.90,356.95 L370.20,357.47 L370.50,358.04 L370.80,354.57 L371.10,355.22 L371.40,354.08 L371.70,350.78 L372.00,354.14 L372.30,352.66 L372.60,352.28 L372.90,350.42 L373.20,351.16 L373.50,350.92 L373.80,352.23 L374.10,350.57 L374.40,354.73 L374.70,348.99 L375.00,348.89 L375.30,348.89 L375.60,347.52 L375.90,350.52 L376.20,348.99 L376.50,345.93 L376.80,347.62 L377.10,348.84 L377.40,344.80 L377.70,346.79 L378.00,345.92 L378.30,349.42 L378.60,346.29 L378.90,344.76 L379.20,344.41 L379.50,348.12 L379.80,344.83 L380.10,349.15 L380.40,343.67 L380.70,345.93 L381.00,346.09 L381.30,345.64 L381.60,346.59 L381.90,348.13 L382.20,346.39 L382.50,345.52 L382.80,349.75 L383.10,350.16 L383.40,347.31 L383.70,348.98 L384.00,345.15 L384.30,350.51 L384.60,347.42 L384.90,348.76 L385.20,352.80 L385.50,348.28 L385.80,350.31 L386.10,349.06 L386.40,348.24 L386.70,349.43 L387.00,351.64 L387.30,349.75 L387.60,350.97 L387.90,352.99 L388.20,352.05 L388.50,350.77 L388.80,354.73 L389.10,353.12 L389.40,355.01 L389.70,351.99 L390.00,355.76 L390.30,352.01 L390.60,351.70 L390.90,353.61 L391.20,353.88 L391.50,354.89 L391.80,354.04 L392.10,355.76 L392.40,356.85 L392.70,354.54 L393.00,353.83 L393.30,355.26 L393.60,356.97 L393.90,357.17 L394.20,355.93 L394.50,355.38 L394.80,356.83 L395.10,358.32 L395.40,356.59 L395.70,359.31 L396.00,358.32 L396.30,358.69 L396.60,357.92 L396.90,360.54 L397.20,359.30 L397.50,357.84 L397.80,360.78 L398.10,359.68 L398.40,361.66 L398.70,360.94 L399.00,360.36 L399.30,361.54 L399.60,361.11 L399.90,361.06 L400.20,362.27 L400.50,363.43 L400.80,362.92 L401.10,363.06 L401.40,362.87 L401.70,364.33 L402.00,364.32 L402.30,365.31 L402.60,365.01 L402.90,367.04 L403.20,363.71 L403.50,365.49 L403.80,366.35 L404.10,366.99 L404.40,365.01 L404.70,365.61 L405.00,367.00 L405.30,368.29 L405.60,368.62 L405.90,366.60 L406.20,368.35 L406.50,369.54 L406.80,368.86 L407.10,368.27 L407.40,368.84 L407.70,368.65 L408.00,370.99 L408.30,370.13 L408.60,370.30 L408.90,370.26 L409.20,371.13 L409.50,370.86 L409.80,371.12 L410.10,372.10 L410.40,372.27 L410.70,373.04 L411.00,373.13 L411.30,374.10 L411.60,373.58 L411.90,374.01 L412.20,374.17 L412.50,373.69 L412.80,375.05 L413.10,374.15 L413.40,373.71 L413.70,375.51 L414.00,375.31 L414.30,374.77 L414.60,375.77 L414.90,375.92 L415.20,375.92 L415.50,375.08 L415.80,375.94 L416.10,375.47 L416.40,375.85 L416.70,376.03 L417.00,376.05 L417.30,376.83 L417.60,376.40 L417.90,377.18 L418.20,377.13 L418.50,376.95 L418.80,377.43 L419.10,377.79 L419.40,378.09 L419.70,377.65 L420.00,378.46 L420.30,378.08 L420.60,378.38 L420.90,377.50 L421.20,377.67 L421.50,378.53 L421.80,378.08 L422.10,378.38 L422.40,378.68 L422.70,377.86 L423.00,378.54 L423.30,379.06 L423.60,378.76 L423.90,378.60 L424.20,378.80 L424.50,378.69 L424.80,378.96 L425.10,379.16 L425.40,378.80 L425.70,379.07 L426.00,379.05 L426.30,379.22 L426.60,379.30 L426.90,378.90 L427.20,379.46 L427.50,379.41 L427.80,378.98 L428.10,379.17 L428.40,378.93 L428.70,379.19 L429.00,379.34 L429.30,379.02 L429.60,379.12 L429.90,379.11 L430.20,379.16 L430.50,379.15 L430.80,379.10 L431.10,379.45 L431.40,379.30 L431.70,379.18 L432.00,379.56 L432.30,379.25 L432.60,379.56 L432.90,379.14 L433.20,379.67 L433.50,379.32 L433.80,379.23 L434.10,379.50 L434.40,379.18 L434.70,379.24 L435.00,379.50 L435.30,379.37 L435.60,379.54 L435.90,379.51 L436.20,379.53 L436.50,379.52 L436.80,379.63 L437.10,379.52 L437.40,379.70 L437.70,379.70 L438.00,379.21 L438.30,379.26 L438.60,379.70 L438.90,379.50 L439.20,379.61 L439.50,379.57 L439.80,379.64" fill="none" stroke="#000" stroke-width="1.9"/></g>
<rect x="333.1" y="273.9" width="183.60" height="105.80" fill="none" stroke="#4a4a4a" stroke-width="1.1"/>
<line x1="331.10" y1="379.70" x2="333.50" y2="379.70" stroke="#333" stroke-width="0.8"/>
<line x1="331.90" y1="376.17" x2="333.50" y2="376.17" stroke="#333" stroke-width="0.8"/>
<line x1="331.90" y1="372.65" x2="333.50" y2="372.65" stroke="#333" stroke-width="0.8"/>
<line x1="331.90" y1="369.12" x2="333.50" y2="369.12" stroke="#333" stroke-width="0.8"/>
<line x1="331.90" y1="365.59" x2="333.50" y2="365.59" stroke="#333" stroke-width="0.8"/>
<line x1="331.10" y1="362.07" x2="333.50" y2="362.07" stroke="#333" stroke-width="0.8"/>
<line x1="331.90" y1="358.54" x2="333.50" y2="358.54" stroke="#333" stroke-width="0.8"/>
<line x1="331.90" y1="355.01" x2="333.50" y2="355.01" stroke="#333" stroke-width="0.8"/>
<line x1="331.90" y1="351.49" x2="333.50" y2="351.49" stroke="#333" stroke-width="0.8"/>
<line x1="331.90" y1="347.96" x2="333.50" y2="347.96" stroke="#333" stroke-width="0.8"/>
<line x1="331.10" y1="344.43" x2="333.50" y2="344.43" stroke="#333" stroke-width="0.8"/>
<line x1="331.90" y1="340.91" x2="333.50" y2="340.91" stroke="#333" stroke-width="0.8"/>
<line x1="331.90" y1="337.38" x2="333.50" y2="337.38" stroke="#333" stroke-width="0.8"/>
<line x1="331.90" y1="333.85" x2="333.50" y2="333.85" stroke="#333" stroke-width="0.8"/>
<line x1="331.90" y1="330.33" x2="333.50" y2="330.33" stroke="#333" stroke-width="0.8"/>
<line x1="331.10" y1="326.80" x2="333.50" y2="326.80" stroke="#333" stroke-width="0.8"/>
<line x1="331.90" y1="323.27" x2="333.50" y2="323.27" stroke="#333" stroke-width="0.8"/>
<line x1="331.90" y1="319.75" x2="333.50" y2="319.75" stroke="#333" stroke-width="0.8"/>
<line x1="331.90" y1="316.22" x2="333.50" y2="316.22" stroke="#333" stroke-width="0.8"/>
<line x1="331.90" y1="312.69" x2="333.50" y2="312.69" stroke="#333" stroke-width="0.8"/>
<line x1="331.10" y1="309.17" x2="333.50" y2="309.17" stroke="#333" stroke-width="0.8"/>
<line x1="331.90" y1="305.64" x2="333.50" y2="305.64" stroke="#333" stroke-width="0.8"/>
<line x1="331.90" y1="302.11" x2="333.50" y2="302.11" stroke="#333" stroke-width="0.8"/>
<line x1="331.90" y1="298.59" x2="333.50" y2="298.59" stroke="#333" stroke-width="0.8"/>
<line x1="331.90" y1="295.06" x2="333.50" y2="295.06" stroke="#333" stroke-width="0.8"/>
<line x1="331.10" y1="291.53" x2="333.50" y2="291.53" stroke="#333" stroke-width="0.8"/>
<line x1="331.90" y1="288.01" x2="333.50" y2="288.01" stroke="#333" stroke-width="0.8"/>
<line x1="331.90" y1="284.48" x2="333.50" y2="284.48" stroke="#333" stroke-width="0.8"/>
<line x1="331.90" y1="280.95" x2="333.50" y2="280.95" stroke="#333" stroke-width="0.8"/>
<line x1="331.90" y1="277.43" x2="333.50" y2="277.43" stroke="#333" stroke-width="0.8"/>
<line x1="331.10" y1="273.90" x2="333.50" y2="273.90" stroke="#333" stroke-width="0.8"/>
<line x1="333.10" y1="379.30" x2="333.10" y2="381.70" stroke="#333" stroke-width="0.8"/>
<line x1="346.80" y1="379.30" x2="346.80" y2="380.90" stroke="#333" stroke-width="0.8"/>
<line x1="354.81" y1="379.30" x2="354.81" y2="380.90" stroke="#333" stroke-width="0.8"/>
<line x1="360.49" y1="379.30" x2="360.49" y2="380.90" stroke="#333" stroke-width="0.8"/>
<line x1="364.90" y1="379.30" x2="364.90" y2="380.90" stroke="#333" stroke-width="0.8"/>
<line x1="368.51" y1="379.30" x2="368.51" y2="380.90" stroke="#333" stroke-width="0.8"/>
<line x1="371.55" y1="379.30" x2="371.55" y2="380.90" stroke="#333" stroke-width="0.8"/>
<line x1="374.19" y1="379.30" x2="374.19" y2="380.90" stroke="#333" stroke-width="0.8"/>
<line x1="376.52" y1="379.30" x2="376.52" y2="380.90" stroke="#333" stroke-width="0.8"/>
<line x1="378.60" y1="379.30" x2="378.60" y2="381.70" stroke="#333" stroke-width="0.8"/>
<line x1="392.30" y1="379.30" x2="392.30" y2="380.90" stroke="#333" stroke-width="0.8"/>
<line x1="400.31" y1="379.30" x2="400.31" y2="380.90" stroke="#333" stroke-width="0.8"/>
<line x1="405.99" y1="379.30" x2="405.99" y2="380.90" stroke="#333" stroke-width="0.8"/>
<line x1="410.40" y1="379.30" x2="410.40" y2="380.90" stroke="#333" stroke-width="0.8"/>
<line x1="414.01" y1="379.30" x2="414.01" y2="380.90" stroke="#333" stroke-width="0.8"/>
<line x1="417.05" y1="379.30" x2="417.05" y2="380.90" stroke="#333" stroke-width="0.8"/>
<line x1="419.69" y1="379.30" x2="419.69" y2="380.90" stroke="#333" stroke-width="0.8"/>
<line x1="422.02" y1="379.30" x2="422.02" y2="380.90" stroke="#333" stroke-width="0.8"/>
<line x1="424.10" y1="379.30" x2="424.10" y2="381.70" stroke="#333" stroke-width="0.8"/>
<line x1="437.80" y1="379.30" x2="437.80" y2="380.90" stroke="#333" stroke-width="0.8"/>
<line x1="445.81" y1="379.30" x2="445.81" y2="380.90" stroke="#333" stroke-width="0.8"/>
<line x1="451.49" y1="379.30" x2="451.49" y2="380.90" stroke="#333" stroke-width="0.8"/>
<line x1="455.90" y1="379.30" x2="455.90" y2="380.90" stroke="#333" stroke-width="0.8"/>
<line x1="459.51" y1="379.30" x2="459.51" y2="380.90" stroke="#333" stroke-width="0.8"/>
<line x1="462.55" y1="379.30" x2="462.55" y2="380.90" stroke="#333" stroke-width="0.8"/>
<line x1="465.19" y1="379.30" x2="465.19" y2="380.90" stroke="#333" stroke-width="0.8"/>
<line x1="467.52" y1="379.30" x2="467.52" y2="380.90" stroke="#333" stroke-width="0.8"/>
<line x1="469.60" y1="379.30" x2="469.60" y2="381.70" stroke="#333" stroke-width="0.8"/>
<line x1="483.30" y1="379.30" x2="483.30" y2="380.90" stroke="#333" stroke-width="0.8"/>
<line x1="491.31" y1="379.30" x2="491.31" y2="380.90" stroke="#333" stroke-width="0.8"/>
<line x1="496.99" y1="379.30" x2="496.99" y2="380.90" stroke="#333" stroke-width="0.8"/>
<line x1="501.40" y1="379.30" x2="501.40" y2="380.90" stroke="#333" stroke-width="0.8"/>
<line x1="505.01" y1="379.30" x2="505.01" y2="380.90" stroke="#333" stroke-width="0.8"/>
<line x1="508.05" y1="379.30" x2="508.05" y2="380.90" stroke="#333" stroke-width="0.8"/>
<line x1="510.69" y1="379.30" x2="510.69" y2="380.90" stroke="#333" stroke-width="0.8"/>
<line x1="513.02" y1="379.30" x2="513.02" y2="380.90" stroke="#333" stroke-width="0.8"/>
<line x1="515.10" y1="379.70" x2="515.10" y2="381.70" stroke="#333" stroke-width="0.8"/>
<text transform="translate(329.80,379.70) rotate(-90)" text-anchor="middle" style="font-family:'Liberation Sans',sans-serif;font-weight:bold;font-size:4.3px" fill="#222">0</text>
<text transform="translate(329.80,362.07) rotate(-90)" text-anchor="middle" style="font-family:'Liberation Sans',sans-serif;font-weight:bold;font-size:4.3px" fill="#222">20</text>
<text transform="translate(329.80,344.43) rotate(-90)" text-anchor="middle" style="font-family:'Liberation Sans',sans-serif;font-weight:bold;font-size:4.3px" fill="#222">40</text>
<text transform="translate(329.80,326.80) rotate(-90)" text-anchor="middle" style="font-family:'Liberation Sans',sans-serif;font-weight:bold;font-size:4.3px" fill="#222">60</text>
<text transform="translate(329.80,309.17) rotate(-90)" text-anchor="middle" style="font-family:'Liberation Sans',sans-serif;font-weight:bold;font-size:4.3px" fill="#222">80</text>
<text transform="translate(329.80,291.53) rotate(-90)" text-anchor="middle" style="font-family:'Liberation Sans',sans-serif;font-weight:bold;font-size:4.3px" fill="#222">100</text>
<text transform="translate(329.80,273.90) rotate(-90)" text-anchor="middle" style="font-family:'Liberation Sans',sans-serif;font-weight:bold;font-size:4.3px" fill="#222">120</text>
<text transform="translate(325.90,328.20) rotate(-90)" text-anchor="middle" style="font-family:'Liberation Sans',sans-serif;font-weight:bold;font-size:4.4px" fill="#222">Counts</text>
<text x="332.50" y="387.00" text-anchor="middle" style="font-family:'Liberation Sans',sans-serif;font-weight:bold;font-size:4.4px" fill="#444">10<tspan dy="-1.76" style="font-size:3.08px">0</tspan></text>
<text x="378.00" y="387.00" text-anchor="middle" style="font-family:'Liberation Sans',sans-serif;font-weight:bold;font-size:4.4px" fill="#444">10<tspan dy="-1.76" style="font-size:3.08px">1</tspan></text>
<text x="423.50" y="387.00" text-anchor="middle" style="font-family:'Liberation Sans',sans-serif;font-weight:bold;font-size:4.4px" fill="#444">10<tspan dy="-1.76" style="font-size:3.08px">2</tspan></text>
<text x="469.00" y="387.00" text-anchor="middle" style="font-family:'Liberation Sans',sans-serif;font-weight:bold;font-size:4.4px" fill="#444">10<tspan dy="-1.76" style="font-size:3.08px">3</tspan></text>
<text x="514.50" y="387.00" text-anchor="middle" style="font-family:'Liberation Sans',sans-serif;font-weight:bold;font-size:4.4px" fill="#444">10<tspan dy="-1.76" style="font-size:3.08px">4</tspan></text>
<line x1="304.6" y1="42" x2="304.6" y2="335.7" stroke="#000" stroke-width="2.1"/>
<path d="M304.5,36.4 L308.1,43.5 L301.0,43.5 Z" fill="#000"/>
<g>
<text transform="translate(-0.77,22.18) scale(1.0000,1)" style="font-size:30.841px" fill="#000">A</text>
<text transform="translate(0.82,431.36) scale(1.0000,1)" style="font-size:31.881px" fill="#000">B</text>
<text transform="translate(-3.88,792.66) scale(1.0000,1)" style="font-size:32.135px" fill="#000">C</text>
<text transform="translate(112.34,20.58) scale(1.1724,1)" style="font-size:16.387px" fill="#000">DP+</text>
<text transform="translate(169.96,20.58) scale(1.1724,1)" style="font-size:16.387px" fill="#000">DN+</text>
<text transform="translate(20.30,46.74) scale(1.1551,1)" style="font-size:12.114px" fill="#000">100</text>
<text transform="translate(28.06,71.14) scale(1.1551,1)" style="font-size:12.114px" fill="#000">75</text>
<text transform="translate(28.06,95.14) scale(1.1551,1)" style="font-size:12.114px" fill="#000">50</text>
<text transform="translate(28.06,119.14) scale(1.1551,1)" style="font-size:12.114px" fill="#000">25</text>
<text transform="translate(35.75,143.24) scale(1.1551,1)" style="font-size:12.114px" fill="#000">0</text>
<text transform="translate(22.92,165.96) scale(1.1499,1)" style="font-size:12.596px" fill="#000">20</text>
<text transform="translate(22.73,213.91) scale(1.1499,1)" style="font-size:12.596px" fill="#000">10</text>
<text transform="translate(30.70,261.91) scale(1.1499,1)" style="font-size:12.596px" fill="#000">0</text>
<text transform="translate(22.36,284.95) scale(1.2403,1)" style="font-size:11.932px" fill="#000">10</text>
<text transform="translate(30.53,332.68) scale(1.2403,1)" style="font-size:11.932px" fill="#000">5</text>
<text transform="translate(30.53,380.48) scale(1.2403,1)" style="font-size:11.932px" fill="#000">0</text>
<text transform="translate(22.94,454.34) scale(1.0680,1)" style="font-size:11.452px" fill="#000">10</text>
<text transform="translate(29.08,506.81) scale(1.0680,1)" style="font-size:11.452px" fill="#000">5</text>
<text transform="translate(29.08,557.51) scale(1.0680,1)" style="font-size:11.452px" fill="#000">0</text>
<text transform="translate(28.05,575.65) scale(0.9145,1)" style="font-size:12.194px" fill="#000">5</text>
<text transform="translate(27.97,597.27) scale(0.9145,1)" style="font-size:12.194px" fill="#000">4</text>
<text transform="translate(28.25,617.67) scale(0.9145,1)" style="font-size:12.194px" fill="#000">3</text>
<text transform="translate(28.25,638.17) scale(0.9145,1)" style="font-size:12.194px" fill="#000">2</text>
<text transform="translate(28.25,658.67) scale(0.9145,1)" style="font-size:12.194px" fill="#000">1</text>
<text transform="translate(28.25,679.17) scale(0.9145,1)" style="font-size:12.194px" fill="#000">0</text>
<text transform="translate(50.70,731.26) scale(1.0947,1)" style="font-size:11.095px" fill="#000">40</text>
<text transform="translate(50.54,757.28) scale(1.0947,1)" style="font-size:11.095px" fill="#000">30</text>
<text transform="translate(50.54,782.98) scale(1.0947,1)" style="font-size:11.095px" fill="#000">20</text>
<text transform="translate(50.54,808.48) scale(1.0947,1)" style="font-size:11.095px" fill="#000">10</text>
<text transform="translate(57.22,834.08) scale(1.0947,1)" style="font-size:11.095px" fill="#000">0</text>
<text transform="translate(89.47,60.22) scale(1.1300,1)" style="font-size:10.000px" fill="#000"><tspan style="font-style:italic">p</tspan>=0.01</text>
<text transform="translate(172.28,59.38) scale(1.1300,1)" style="font-size:10.000px" fill="#000"><tspan style="font-style:italic">p</tspan>=0.001</text>
<text transform="translate(78.11,181.65) scale(1.1300,1)" style="font-size:10.000px" fill="#000"><tspan style="font-style:italic">P</tspan>&lt;0.001</text>
<text transform="translate(172.50,181.65) scale(1.1300,1)" style="font-size:10.000px" fill="#000"><tspan style="font-style:italic">P</tspan>&lt;0.001</text>
<text transform="translate(83.67,305.69) scale(1.1300,1)" style="font-size:10.000px" fill="#000"><tspan style="font-style:italic">p</tspan>=0.029</text>
<text transform="translate(166.66,305.75) scale(1.1300,1)" style="font-size:10.000px" fill="#000"><tspan style="font-style:italic">p</tspan>=0.02</text>
<text transform="translate(113.64,462.27) scale(1.1300,1)" style="font-size:10.000px" fill="#000"><tspan style="font-style:italic">p</tspan>=0.8</text>
<text transform="translate(113.67,592.94) scale(1.1300,1)" style="font-size:10.000px" fill="#000"><tspan style="font-style:italic">p</tspan>=0.9</text>
<text transform="translate(136.28,738.89) scale(1.1300,1)" style="font-size:10.000px" fill="#000"><tspan style="font-style:italic">p</tspan>=0.22</text>
<text transform="translate(77.41,393.35) scale(1.1267,1)" style="font-size:13.950px" fill="#000">Day 0</text>
<text transform="translate(167.41,393.78) scale(1.1267,1)" style="font-size:13.950px" fill="#000">Day 15</text>
<text transform="translate(78.33,696.53) scale(1.0479,1)" style="font-size:18.398px" fill="#000">DP+</text>
<text transform="translate(177.55,696.55) scale(1.0479,1)" style="font-size:18.398px" fill="#000">DP-</text>
<text transform="translate(100.60,847.35) scale(1.1267,1)" style="font-size:13.950px" fill="#000">Day 0</text>
<text transform="translate(185.41,846.80) scale(1.1267,1)" style="font-size:13.950px" fill="#000">Day 15</text>
<text transform="translate(468.08,76.37) scale(1.0716,1)" style="font-size:16.081px" fill="#000">Ki-67</text>
<text transform="translate(467.67,196.33) scale(1.0716,1)" style="font-size:16.081px" fill="#000">Bcl-2</text>
<text transform="translate(476.66,313.74) scale(1.0716,1)" style="font-size:16.081px" fill="#000">p53</text>
<text transform="translate(11.92,124.71) rotate(-90) scale(1.0356,1)" style="font-size:15.267px" fill="#000">% K<tspan style="font-size:0.74em">I</tspan>-67+</text>
<text transform="translate(11.94,239.30) rotate(-90) scale(1.0899,1)" style="font-size:14.271px" fill="#000">Bcl-2 MFI</text>
<text transform="translate(11.37,352.92) rotate(-90) scale(1.1671,1)" style="font-size:13.398px" fill="#000">p53 MFI</text>
<text transform="translate(11.98,536.16) rotate(-90) scale(1.0207,1)" style="font-size:15.001px" fill="#000">CD114 MFI</text>
<text transform="translate(11.45,673.23) rotate(-90) scale(1.0215,1)" style="font-size:15.374px" fill="#000">CSF3R mRNA</text>
<text transform="translate(44.95,813.93) rotate(-90) scale(0.9417,1)" style="font-size:16.706px" fill="#000">CD114 MFI</text>
<text transform="translate(311.28,376.01) rotate(-90) scale(0.9999,1)" style="font-size:17.750px" fill="#000">MFI</text>
</g>
</svg></body></html>
